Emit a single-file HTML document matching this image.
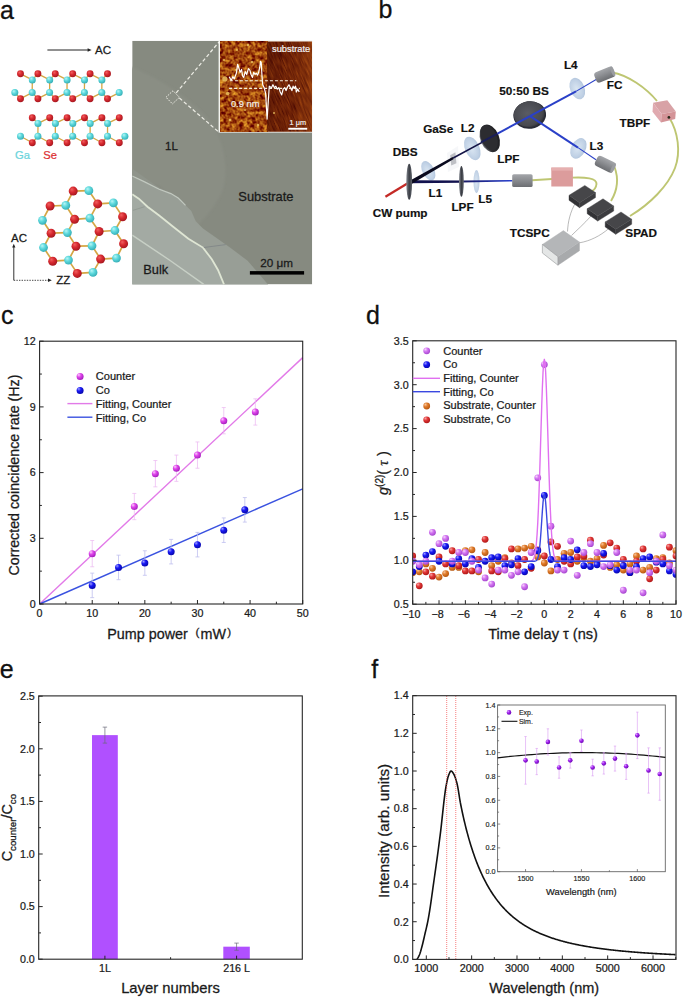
<!DOCTYPE html><html><head><meta charset="utf-8"><title>Figure</title><style>html,body{margin:0;padding:0;background:#fff;overflow:hidden;width:685px;height:998px;}svg{display:block;}text{font-family:"Liberation Sans",sans-serif;}</style></head><body>
<svg width="685" height="998" viewBox="0 0 685 998">
<defs><radialGradient id="gMag" cx="0.38" cy="0.35" r="0.65" fx="0.3" fy="0.28"><stop offset="0" stop-color="#fcd0fc"/><stop offset="0.45" stop-color="#e046ec"/><stop offset="1" stop-color="#a820c0"/></radialGradient><radialGradient id="gBlue" cx="0.38" cy="0.35" r="0.65" fx="0.3" fy="0.28"><stop offset="0" stop-color="#a0a0ff"/><stop offset="0.45" stop-color="#1818f4"/><stop offset="1" stop-color="#0808b0"/></radialGradient><radialGradient id="gVio" cx="0.38" cy="0.35" r="0.65" fx="0.3" fy="0.28"><stop offset="0" stop-color="#f8d8fc"/><stop offset="0.45" stop-color="#d477f2"/><stop offset="1" stop-color="#a848d0"/></radialGradient><radialGradient id="gOr" cx="0.38" cy="0.35" r="0.65" fx="0.3" fy="0.28"><stop offset="0" stop-color="#f8c8a0"/><stop offset="0.45" stop-color="#e07c2c"/><stop offset="1" stop-color="#b85810"/></radialGradient><radialGradient id="gRed" cx="0.38" cy="0.35" r="0.65" fx="0.3" fy="0.28"><stop offset="0" stop-color="#f8a8a8"/><stop offset="0.45" stop-color="#e23838"/><stop offset="1" stop-color="#b01818"/></radialGradient><radialGradient id="gPur" cx="0.38" cy="0.35" r="0.65" fx="0.3" fy="0.28"><stop offset="0" stop-color="#dca8ff"/><stop offset="0.45" stop-color="#a424f0"/><stop offset="1" stop-color="#6c08b4"/></radialGradient><radialGradient id="gAtR" cx="0.4" cy="0.38" r="0.62" fx="0.35" fy="0.3"><stop offset="0" stop-color="#f06060"/><stop offset="0.5" stop-color="#d82a30"/><stop offset="1" stop-color="#a81820"/></radialGradient><radialGradient id="gAtC" cx="0.4" cy="0.38" r="0.62" fx="0.35" fy="0.3"><stop offset="0" stop-color="#b8f6f6"/><stop offset="0.5" stop-color="#5cd8dc"/><stop offset="1" stop-color="#38b0b8"/></radialGradient><filter id="blur05" x="-0.2" y="-0.2" width="1.4" height="1.4"><feGaussianBlur stdDeviation="0.5"/></filter><filter id="blur1" x="-0.2" y="-0.2" width="1.4" height="1.4"><feGaussianBlur stdDeviation="1"/></filter><linearGradient id="gAfmR" x1="0" y1="0" x2="1" y2="0"><stop offset="0" stop-color="#300000" stop-opacity="0.3"/><stop offset="0.5" stop-color="#400800" stop-opacity="0.1"/><stop offset="1" stop-color="#d07020" stop-opacity="0.25"/></linearGradient><filter id="afmL" x="0" y="0" width="1" height="1" color-interpolation-filters="sRGB"><feTurbulence type="fractalNoise" baseFrequency="0.25" numOctaves="3" seed="7" result="n"/><feColorMatrix in="n" type="matrix" values="0.95 0 0 0 0.15  1.15 0 0 0 -0.3  0.35 0 0 0 -0.12  0 0 0 0 1"/></filter><filter id="afmR" x="0" y="0" width="1" height="1" color-interpolation-filters="sRGB"><feTurbulence type="fractalNoise" baseFrequency="0.9 0.08" numOctaves="2" seed="3" result="n"/><feColorMatrix in="n" type="matrix" values="0.5 0 0 0 0.21  0.36 0 0 0 -0.03  0.08 0 0 0 -0.01  0 0 0 0 1"/></filter><linearGradient id="gLens" x1="0" y1="0" x2="1" y2="1"><stop offset="0" stop-color="#e8f0f8"/><stop offset="0.5" stop-color="#b8cce4"/><stop offset="1" stop-color="#d8e4f0"/></linearGradient><radialGradient id="gLens2" cx="0.45" cy="0.5" r="0.6"><stop offset="0" stop-color="#d4e2f0"/><stop offset="0.7" stop-color="#b4c8e0"/><stop offset="1" stop-color="#9fb6d2"/></radialGradient><linearGradient id="gDisk" x1="0" y1="0" x2="1" y2="0"><stop offset="0" stop-color="#6a6c72"/><stop offset="0.4" stop-color="#2c2d31"/><stop offset="1" stop-color="#1e1e22"/></linearGradient><linearGradient id="gDBS" x1="0" y1="0" x2="1" y2="0"><stop offset="0" stop-color="#888c94"/><stop offset="0.5" stop-color="#3a3d44"/><stop offset="1" stop-color="#62666e"/></linearGradient><radialGradient id="gBS" cx="0.45" cy="0.45" r="0.6"><stop offset="0" stop-color="#5a5c64"/><stop offset="0.8" stop-color="#48494f"/><stop offset="1" stop-color="#2e2f35"/></radialGradient><linearGradient id="gCyl" x1="0" y1="0" x2="0" y2="1"><stop offset="0" stop-color="#a4a6aa"/><stop offset="0.45" stop-color="#8c8e92"/><stop offset="1" stop-color="#6c6e72"/></linearGradient><linearGradient id="gBeamU" x1="0" y1="0" x2="1" y2="0"><stop offset="0" stop-color="#0a0a1a"/><stop offset="0.6" stop-color="#16164a"/><stop offset="1" stop-color="#2233a0"/></linearGradient><linearGradient id="gBeamL" gradientUnits="userSpaceOnUse" x1="411" y1="0" x2="512" y2="0"><stop offset="0" stop-color="#0c0c2a"/><stop offset="0.5" stop-color="#1a1a60"/><stop offset="1" stop-color="#2840d0"/></linearGradient><linearGradient id="gBeamU2" gradientUnits="userSpaceOnUse" x1="411" y1="182" x2="489" y2="138"><stop offset="0" stop-color="#08081a"/><stop offset="0.55" stop-color="#141440"/><stop offset="1" stop-color="#1c2a80"/></linearGradient></defs>
<rect width="685" height="998" fill="#fff"/>
<text x="0" y="18.5" font-size="25" text-anchor="start" fill="#111" stroke="#111" stroke-width="0.28" >a</text>
<line x1="47.4" y1="50" x2="88.5" y2="50" stroke="#222" stroke-width="1" />
<polygon points="91.6,50 87.6,48.2 87.6,51.8" fill="#222"/>
<text x="95" y="54.1" font-size="11.6" text-anchor="start" fill="#1a1a1a" stroke="#1a1a1a" stroke-width="0.255" >AC</text>
<line x1="20.5" y1="73.8" x2="32.3" y2="79.9" stroke="#d4a644" stroke-width="1.3" />
<line x1="37.9" y1="73.8" x2="32.3" y2="79.9" stroke="#d4a644" stroke-width="1.3" />
<line x1="37.9" y1="73.8" x2="49.7" y2="79.9" stroke="#d4a644" stroke-width="1.3" />
<line x1="55.3" y1="73.8" x2="49.7" y2="79.9" stroke="#d4a644" stroke-width="1.3" />
<line x1="55.3" y1="73.8" x2="67.1" y2="79.9" stroke="#d4a644" stroke-width="1.3" />
<line x1="72.7" y1="73.8" x2="67.1" y2="79.9" stroke="#d4a644" stroke-width="1.3" />
<line x1="72.7" y1="73.8" x2="84.5" y2="79.9" stroke="#d4a644" stroke-width="1.3" />
<line x1="90.1" y1="73.8" x2="84.5" y2="79.9" stroke="#d4a644" stroke-width="1.3" />
<line x1="90.1" y1="73.8" x2="101.9" y2="79.9" stroke="#d4a644" stroke-width="1.3" />
<line x1="107.5" y1="73.8" x2="101.9" y2="79.9" stroke="#d4a644" stroke-width="1.3" />
<line x1="20.5" y1="98.7" x2="14.8" y2="92.6" stroke="#d4a644" stroke-width="1.3" />
<line x1="20.5" y1="98.7" x2="32.2" y2="92.6" stroke="#d4a644" stroke-width="1.3" />
<line x1="37.9" y1="98.7" x2="32.2" y2="92.6" stroke="#d4a644" stroke-width="1.3" />
<line x1="37.9" y1="98.7" x2="49.6" y2="92.6" stroke="#d4a644" stroke-width="1.3" />
<line x1="55.3" y1="98.7" x2="49.6" y2="92.6" stroke="#d4a644" stroke-width="1.3" />
<line x1="55.3" y1="98.7" x2="67" y2="92.6" stroke="#d4a644" stroke-width="1.3" />
<line x1="72.7" y1="98.7" x2="67" y2="92.6" stroke="#d4a644" stroke-width="1.3" />
<line x1="72.7" y1="98.7" x2="84.4" y2="92.6" stroke="#d4a644" stroke-width="1.3" />
<line x1="90.1" y1="98.7" x2="84.4" y2="92.6" stroke="#d4a644" stroke-width="1.3" />
<line x1="90.1" y1="98.7" x2="101.8" y2="92.6" stroke="#d4a644" stroke-width="1.3" />
<line x1="107.5" y1="98.7" x2="101.8" y2="92.6" stroke="#d4a644" stroke-width="1.3" />
<line x1="107.5" y1="98.7" x2="119.2" y2="92.6" stroke="#d4a644" stroke-width="1.3" />
<line x1="32.3" y1="79.9" x2="32.2" y2="92.6" stroke="#d4a644" stroke-width="1.3" />
<line x1="49.7" y1="79.9" x2="49.6" y2="92.6" stroke="#d4a644" stroke-width="1.3" />
<line x1="67.1" y1="79.9" x2="67" y2="92.6" stroke="#d4a644" stroke-width="1.3" />
<line x1="84.5" y1="79.9" x2="84.4" y2="92.6" stroke="#d4a644" stroke-width="1.3" />
<line x1="101.9" y1="79.9" x2="101.8" y2="92.6" stroke="#d4a644" stroke-width="1.3" />
<circle cx="20.5" cy="73.8" r="3.45" fill="url(#gAtR)"/>
<circle cx="37.9" cy="73.8" r="3.45" fill="url(#gAtR)"/>
<circle cx="55.3" cy="73.8" r="3.45" fill="url(#gAtR)"/>
<circle cx="72.7" cy="73.8" r="3.45" fill="url(#gAtR)"/>
<circle cx="90.1" cy="73.8" r="3.45" fill="url(#gAtR)"/>
<circle cx="107.5" cy="73.8" r="3.45" fill="url(#gAtR)"/>
<circle cx="20.5" cy="98.7" r="3.45" fill="url(#gAtR)"/>
<circle cx="37.9" cy="98.7" r="3.45" fill="url(#gAtR)"/>
<circle cx="55.3" cy="98.7" r="3.45" fill="url(#gAtR)"/>
<circle cx="72.7" cy="98.7" r="3.45" fill="url(#gAtR)"/>
<circle cx="90.1" cy="98.7" r="3.45" fill="url(#gAtR)"/>
<circle cx="107.5" cy="98.7" r="3.45" fill="url(#gAtR)"/>
<circle cx="32.3" cy="79.9" r="3.5" fill="url(#gAtC)"/>
<circle cx="49.7" cy="79.9" r="3.5" fill="url(#gAtC)"/>
<circle cx="67.1" cy="79.9" r="3.5" fill="url(#gAtC)"/>
<circle cx="84.5" cy="79.9" r="3.5" fill="url(#gAtC)"/>
<circle cx="101.9" cy="79.9" r="3.5" fill="url(#gAtC)"/>
<circle cx="14.8" cy="92.6" r="3.5" fill="url(#gAtC)"/>
<circle cx="32.2" cy="92.6" r="3.5" fill="url(#gAtC)"/>
<circle cx="49.6" cy="92.6" r="3.5" fill="url(#gAtC)"/>
<circle cx="67" cy="92.6" r="3.5" fill="url(#gAtC)"/>
<circle cx="84.4" cy="92.6" r="3.5" fill="url(#gAtC)"/>
<circle cx="101.8" cy="92.6" r="3.5" fill="url(#gAtC)"/>
<circle cx="119.2" cy="92.6" r="3.5" fill="url(#gAtC)"/>
<line x1="32.3" y1="117.7" x2="38" y2="123.4" stroke="#d4a644" stroke-width="1.3" />
<line x1="49.7" y1="117.7" x2="38" y2="123.4" stroke="#d4a644" stroke-width="1.3" />
<line x1="49.7" y1="117.7" x2="55.4" y2="123.4" stroke="#d4a644" stroke-width="1.3" />
<line x1="67.1" y1="117.7" x2="55.4" y2="123.4" stroke="#d4a644" stroke-width="1.3" />
<line x1="67.1" y1="117.7" x2="72.8" y2="123.4" stroke="#d4a644" stroke-width="1.3" />
<line x1="84.5" y1="117.7" x2="72.8" y2="123.4" stroke="#d4a644" stroke-width="1.3" />
<line x1="84.5" y1="117.7" x2="90.2" y2="123.4" stroke="#d4a644" stroke-width="1.3" />
<line x1="101.9" y1="117.7" x2="90.2" y2="123.4" stroke="#d4a644" stroke-width="1.3" />
<line x1="101.9" y1="117.7" x2="107.6" y2="123.4" stroke="#d4a644" stroke-width="1.3" />
<line x1="119.3" y1="117.7" x2="107.6" y2="123.4" stroke="#d4a644" stroke-width="1.3" />
<line x1="32.3" y1="142.7" x2="20.5" y2="136.3" stroke="#d4a644" stroke-width="1.3" />
<line x1="32.3" y1="142.7" x2="37.9" y2="136.3" stroke="#d4a644" stroke-width="1.3" />
<line x1="49.7" y1="142.7" x2="37.9" y2="136.3" stroke="#d4a644" stroke-width="1.3" />
<line x1="49.7" y1="142.7" x2="55.3" y2="136.3" stroke="#d4a644" stroke-width="1.3" />
<line x1="67.1" y1="142.7" x2="55.3" y2="136.3" stroke="#d4a644" stroke-width="1.3" />
<line x1="67.1" y1="142.7" x2="72.7" y2="136.3" stroke="#d4a644" stroke-width="1.3" />
<line x1="84.5" y1="142.7" x2="72.7" y2="136.3" stroke="#d4a644" stroke-width="1.3" />
<line x1="84.5" y1="142.7" x2="90.1" y2="136.3" stroke="#d4a644" stroke-width="1.3" />
<line x1="101.9" y1="142.7" x2="90.1" y2="136.3" stroke="#d4a644" stroke-width="1.3" />
<line x1="101.9" y1="142.7" x2="107.5" y2="136.3" stroke="#d4a644" stroke-width="1.3" />
<line x1="119.3" y1="142.7" x2="107.5" y2="136.3" stroke="#d4a644" stroke-width="1.3" />
<line x1="119.3" y1="142.7" x2="124.9" y2="136.3" stroke="#d4a644" stroke-width="1.3" />
<line x1="38" y1="123.4" x2="37.9" y2="136.3" stroke="#d4a644" stroke-width="1.3" />
<line x1="55.4" y1="123.4" x2="55.3" y2="136.3" stroke="#d4a644" stroke-width="1.3" />
<line x1="72.8" y1="123.4" x2="72.7" y2="136.3" stroke="#d4a644" stroke-width="1.3" />
<line x1="90.2" y1="123.4" x2="90.1" y2="136.3" stroke="#d4a644" stroke-width="1.3" />
<line x1="107.6" y1="123.4" x2="107.5" y2="136.3" stroke="#d4a644" stroke-width="1.3" />
<circle cx="32.3" cy="117.7" r="3.45" fill="url(#gAtR)"/>
<circle cx="49.7" cy="117.7" r="3.45" fill="url(#gAtR)"/>
<circle cx="67.1" cy="117.7" r="3.45" fill="url(#gAtR)"/>
<circle cx="84.5" cy="117.7" r="3.45" fill="url(#gAtR)"/>
<circle cx="101.9" cy="117.7" r="3.45" fill="url(#gAtR)"/>
<circle cx="119.3" cy="117.7" r="3.45" fill="url(#gAtR)"/>
<circle cx="32.3" cy="142.7" r="3.45" fill="url(#gAtR)"/>
<circle cx="49.7" cy="142.7" r="3.45" fill="url(#gAtR)"/>
<circle cx="67.1" cy="142.7" r="3.45" fill="url(#gAtR)"/>
<circle cx="84.5" cy="142.7" r="3.45" fill="url(#gAtR)"/>
<circle cx="101.9" cy="142.7" r="3.45" fill="url(#gAtR)"/>
<circle cx="119.3" cy="142.7" r="3.45" fill="url(#gAtR)"/>
<circle cx="38" cy="123.4" r="3.5" fill="url(#gAtC)"/>
<circle cx="55.4" cy="123.4" r="3.5" fill="url(#gAtC)"/>
<circle cx="72.8" cy="123.4" r="3.5" fill="url(#gAtC)"/>
<circle cx="90.2" cy="123.4" r="3.5" fill="url(#gAtC)"/>
<circle cx="107.6" cy="123.4" r="3.5" fill="url(#gAtC)"/>
<circle cx="20.5" cy="136.3" r="3.5" fill="url(#gAtC)"/>
<circle cx="37.9" cy="136.3" r="3.5" fill="url(#gAtC)"/>
<circle cx="55.3" cy="136.3" r="3.5" fill="url(#gAtC)"/>
<circle cx="72.7" cy="136.3" r="3.5" fill="url(#gAtC)"/>
<circle cx="90.1" cy="136.3" r="3.5" fill="url(#gAtC)"/>
<circle cx="107.5" cy="136.3" r="3.5" fill="url(#gAtC)"/>
<circle cx="124.9" cy="136.3" r="3.5" fill="url(#gAtC)"/>
<text x="15" y="158.8" font-size="11.2" text-anchor="start" fill="#6cd4dc" stroke="#6cd4dc" stroke-width="0.246" >Ga</text>
<text x="43.2" y="158.8" font-size="11.2" text-anchor="start" fill="#dc3034" stroke="#dc3034" stroke-width="0.246" >Se</text>
<line x1="73.2" y1="191.1" x2="88.9" y2="190.7" stroke="#d4a644" stroke-width="1.7" />
<line x1="73.2" y1="191.1" x2="65.8" y2="205.4" stroke="#d4a644" stroke-width="1.7" />
<line x1="50.1" y1="206" x2="65.8" y2="205.4" stroke="#d4a644" stroke-width="1.7" />
<line x1="50.1" y1="206" x2="42.5" y2="220.3" stroke="#d4a644" stroke-width="1.7" />
<line x1="97.7" y1="203.9" x2="88.9" y2="190.7" stroke="#d4a644" stroke-width="1.7" />
<line x1="97.7" y1="203.9" x2="113.4" y2="202.9" stroke="#d4a644" stroke-width="1.7" />
<line x1="97.7" y1="203.9" x2="89.9" y2="218.2" stroke="#d4a644" stroke-width="1.7" />
<line x1="74.6" y1="219.3" x2="65.8" y2="205.4" stroke="#d4a644" stroke-width="1.7" />
<line x1="74.6" y1="219.3" x2="89.9" y2="218.2" stroke="#d4a644" stroke-width="1.7" />
<line x1="74.6" y1="219.3" x2="67.4" y2="232.6" stroke="#d4a644" stroke-width="1.7" />
<line x1="122.6" y1="216.8" x2="113.4" y2="202.9" stroke="#d4a644" stroke-width="1.7" />
<line x1="122.6" y1="216.8" x2="114.9" y2="230.5" stroke="#d4a644" stroke-width="1.7" />
<line x1="51.1" y1="233.2" x2="42.5" y2="220.3" stroke="#d4a644" stroke-width="1.7" />
<line x1="51.1" y1="233.2" x2="67.4" y2="232.6" stroke="#d4a644" stroke-width="1.7" />
<line x1="51.1" y1="233.2" x2="43.5" y2="247.5" stroke="#d4a644" stroke-width="1.7" />
<line x1="99.1" y1="231.5" x2="89.9" y2="218.2" stroke="#d4a644" stroke-width="1.7" />
<line x1="99.1" y1="231.5" x2="114.9" y2="230.5" stroke="#d4a644" stroke-width="1.7" />
<line x1="99.1" y1="231.5" x2="92" y2="245.8" stroke="#d4a644" stroke-width="1.7" />
<line x1="76" y1="246.2" x2="67.4" y2="232.6" stroke="#d4a644" stroke-width="1.7" />
<line x1="76" y1="246.2" x2="92" y2="245.8" stroke="#d4a644" stroke-width="1.7" />
<line x1="76" y1="246.2" x2="68.5" y2="260.1" stroke="#d4a644" stroke-width="1.7" />
<line x1="123.6" y1="243.8" x2="114.9" y2="230.5" stroke="#d4a644" stroke-width="1.7" />
<line x1="123.6" y1="243.8" x2="116.5" y2="258.1" stroke="#d4a644" stroke-width="1.7" />
<line x1="52.7" y1="261.2" x2="43.5" y2="247.5" stroke="#d4a644" stroke-width="1.7" />
<line x1="52.7" y1="261.2" x2="68.5" y2="260.1" stroke="#d4a644" stroke-width="1.7" />
<line x1="100.6" y1="259.1" x2="92" y2="245.8" stroke="#d4a644" stroke-width="1.7" />
<line x1="100.6" y1="259.1" x2="116.5" y2="258.1" stroke="#d4a644" stroke-width="1.7" />
<line x1="100.6" y1="259.1" x2="93" y2="272.4" stroke="#d4a644" stroke-width="1.7" />
<line x1="77.3" y1="273.4" x2="68.5" y2="260.1" stroke="#d4a644" stroke-width="1.7" />
<line x1="77.3" y1="273.4" x2="93" y2="272.4" stroke="#d4a644" stroke-width="1.7" />
<circle cx="73.2" cy="191.1" r="4.5" fill="url(#gAtR)"/>
<circle cx="50.1" cy="206" r="4.5" fill="url(#gAtR)"/>
<circle cx="97.7" cy="203.9" r="4.5" fill="url(#gAtR)"/>
<circle cx="74.6" cy="219.3" r="4.5" fill="url(#gAtR)"/>
<circle cx="122.6" cy="216.8" r="4.5" fill="url(#gAtR)"/>
<circle cx="51.1" cy="233.2" r="4.5" fill="url(#gAtR)"/>
<circle cx="99.1" cy="231.5" r="4.5" fill="url(#gAtR)"/>
<circle cx="76" cy="246.2" r="4.5" fill="url(#gAtR)"/>
<circle cx="123.6" cy="243.8" r="4.5" fill="url(#gAtR)"/>
<circle cx="52.7" cy="261.2" r="4.5" fill="url(#gAtR)"/>
<circle cx="100.6" cy="259.1" r="4.5" fill="url(#gAtR)"/>
<circle cx="77.3" cy="273.4" r="4.5" fill="url(#gAtR)"/>
<circle cx="88.9" cy="190.7" r="4.4" fill="url(#gAtC)"/>
<circle cx="65.8" cy="205.4" r="4.4" fill="url(#gAtC)"/>
<circle cx="113.4" cy="202.9" r="4.4" fill="url(#gAtC)"/>
<circle cx="42.5" cy="220.3" r="4.4" fill="url(#gAtC)"/>
<circle cx="89.9" cy="218.2" r="4.4" fill="url(#gAtC)"/>
<circle cx="67.4" cy="232.6" r="4.4" fill="url(#gAtC)"/>
<circle cx="114.9" cy="230.5" r="4.4" fill="url(#gAtC)"/>
<circle cx="43.5" cy="247.5" r="4.4" fill="url(#gAtC)"/>
<circle cx="92" cy="245.8" r="4.4" fill="url(#gAtC)"/>
<circle cx="68.5" cy="260.1" r="4.4" fill="url(#gAtC)"/>
<circle cx="116.5" cy="258.1" r="4.4" fill="url(#gAtC)"/>
<circle cx="93" cy="272.4" r="4.4" fill="url(#gAtC)"/>
<line x1="13.8" y1="280.3" x2="13.8" y2="247" stroke="#333" stroke-width="1" />
<polygon points="13.8,243.8 12.2,247.6 15.4,247.6" fill="#222"/>
<line x1="13.8" y1="280.3" x2="48.5" y2="280.3" stroke="#333" stroke-width="0.9" stroke-dasharray="1.4,1.2"/>
<polygon points="51.8,280.3 48,278.6 48,282" fill="#222"/>
<text x="11" y="242" font-size="11.5" text-anchor="start" fill="#1a1a1a" stroke="#1a1a1a" stroke-width="0.253" >AC</text>
<text x="56.2" y="283.6" font-size="11.5" text-anchor="start" fill="#1a1a1a" stroke="#1a1a1a" stroke-width="0.253" >ZZ</text>
<clipPath id="clipMic"><rect x="132.2" y="40.8" width="180" height="243.6"/></clipPath>
<g clip-path="url(#clipMic)">
<rect x="132.2" y="40.8" width="180" height="243.6" fill="#868a80"/>
<path d="M120,62 C160,78 195,100 215,128 C226,150 228,175 222,192 C214,208 205,218 197,226 L160,186 L120,175 Z" fill="#8a8e84" filter="url(#blur1)"/>
<polygon points="126,165 132.2,168.8 157,186.3 178.2,198 185.5,205.3 182.6,202.3 170.9,193.6 159.2,189.2 144.6,181.9 132.2,176 126,176" fill="#8f948b" filter="url(#blur05)"/>
<polygon points="126,176 132.2,176 144.6,181.9 159.2,189.2 170.9,193.6 178.2,198 182.6,202.3 185.5,205.3 191.3,211.1 195.7,221.3 203,228.6 217.6,238.8 230,247.6 247.6,260.7 268,284.4 272,300 230,300 224,284.4 218,270 211.8,259.3 203,247.6 188.4,238.8 173.8,227.2 159.2,215.5 147.5,206.7 138.8,198.7 132.2,194.3 126,194" fill="#989e96" filter="url(#blur05)"/>
<polygon points="126,194.3 132.2,194.3 138.8,198.7 147.5,206.7 159.2,215.5 173.8,227.2 188.4,238.8 203,247.6 211.8,259.3 218,270 224,284.4 226,300 126,300" fill="#a3aaa3"/>
<polyline points="132.2,176 144.6,181.9 159.2,189.2 170.9,193.6 178.2,198 182.6,202.3 185.5,205.3" fill="none" stroke="#c2c9c0" stroke-width="1.2" filter="url(#blur05)"/>
<polyline points="132.2,194.3 138.8,198.7 147.5,206.7 159.2,215.5 173.8,227.2 188.4,238.8 203,247.6 211.8,259.3 218,270 224,284.4" fill="none" stroke="#dfe6d4" stroke-width="1.8" filter="url(#blur05)"/>
<path d="M132.2,235.2 L169.4,260 L203.8,284.4" fill="none" stroke="#c8d0c6" stroke-width="1.4" filter="url(#blur05)"/>
<path d="M132.9,210.4 L144.6,206.7" fill="none" stroke="#8a908a" stroke-width="0.6"/>
<path d="M203.8,247.5 L225.7,244.6" fill="none" stroke="#7a8084" stroke-width="0.7"/>
</g>
<text x="165" y="149.9" font-size="11.5" text-anchor="start" fill="#1a1a1a" stroke="#1a1a1a" stroke-width="0.253" >1L</text>
<text x="238.3" y="200.8" font-size="12.9" text-anchor="start" fill="#1a1a1a" stroke="#1a1a1a" stroke-width="0.28" >Substrate</text>
<text x="143.3" y="273.8" font-size="12.8" text-anchor="start" fill="#1a1a1a" stroke="#1a1a1a" stroke-width="0.28" >Bulk</text>
<text x="260.2" y="267.2" font-size="11.7" text-anchor="start" fill="#1a1a1a" stroke="#1a1a1a" stroke-width="0.257" >20 μm</text>
<rect x="249.9" y="271.1" width="54.2" height="3.5" fill="#000"/>
<polygon points="166,97.3 173,90.7 179.4,97.3 172.5,103.9" fill="none" stroke="#e8e8e0" stroke-width="1" stroke-dasharray="1.6,1.1"/>
<line x1="176.2" y1="92.9" x2="219.2" y2="41.8" stroke="#ecece4" stroke-width="1.25" stroke-dasharray="3.6,2.3"/>
<line x1="179.4" y1="98" x2="219.2" y2="132.4" stroke="#ecece4" stroke-width="1.25" stroke-dasharray="3.6,2.3"/>
<rect x="218.6" y="40.6" width="93.8" height="92" fill="#f4f4f0"/>
<rect x="220.2" y="41.7" width="47" height="89.8" fill="#b06010"/>
<rect x="220.2" y="41.7" width="47" height="89.8" filter="url(#afmL)"/>
<rect x="267.1" y="41.7" width="44.9" height="89.8" fill="#8a3a0a"/>
<g clip-path="url(#clipAfmR)"><g transform="rotate(-22 289 86)"><rect x="250" y="20" width="80" height="140" filter="url(#afmR)"/></g></g>
<rect x="267.1" y="41.7" width="44.9" height="89.8" fill="url(#gAfmR)"/>
<clipPath id="clipAfmR"><rect x="267.1" y="41.7" width="44.9" height="89.8"/></clipPath>
<circle cx="224.8" cy="78.9" r="2.6" fill="#e8c060" opacity="0.85"/>
<circle cx="227.7" cy="93.5" r="1.8" fill="#e8c060" opacity="0.85"/>
<circle cx="248" cy="45" r="1.2" fill="#e8c060" opacity="0.85"/>
<circle cx="237" cy="50" r="1" fill="#e8c060" opacity="0.85"/>
<circle cx="224" cy="60" r="1.1" fill="#e8c060" opacity="0.85"/>
<circle cx="252" cy="62" r="1.3" fill="#e8c060" opacity="0.85"/>
<circle cx="230" cy="120" r="1.3" fill="#e8c060" opacity="0.85"/>
<circle cx="245" cy="110" r="1" fill="#e8c060" opacity="0.85"/>
<circle cx="258" cy="125" r="1.2" fill="#e8c060" opacity="0.85"/>
<circle cx="274" cy="113" r="1.0" fill="#e8c060" opacity="0.85"/>
<circle cx="236" cy="70" r="0.9" fill="#e8c060" opacity="0.85"/>
<polyline points="229.14,76.7 231.33,80.35 232.79,76.7 234.25,78.89 236.44,73.05 237.61,64.29 238.63,67.21 240.09,72.32 241.55,69.4 242.57,75.97 243.74,77.43 245.2,71.59 246.66,74.51 248.41,68.67 249.87,70.13 251.04,74.51 252.5,77.43 253.66,72.32 255.12,74.51 256.15,73.05 257.61,75.24 258.63,72.32 259.8,67.21 260.53,61.37 261.26,62.83 261.99,75.97 262.72,84.74 264.18,87.66 265.64,93.5 267.09,119.06 267.82,108.1 269.28,86.2 271.47,87.66 272.93,84.74 274.39,87.66 275.85,86.2 277.31,89.12 278.77,87.66 280.23,92.04 281.69,94.96 283.15,89.12 284.61,87.66 286.07,90.58 287.53,86.93 288.99,84.74 290.45,87.66 291.91,90.58 293.08,86.2 294.1,88.39 295.56,86.2 296.29,92.04 297.75,89.12 299.21,92.04" stroke="#ffffff" stroke-width="1.2" fill="none" stroke-linejoin="round"/>
<line x1="229.9" y1="80.8" x2="296.3" y2="80.8" stroke="#f4f0e0" stroke-width="1.1" stroke-dasharray="3,2"/>
<line x1="229.1" y1="88.4" x2="300" y2="88.4" stroke="#f4f0e0" stroke-width="1.1" stroke-dasharray="3,2"/>
<text x="272" y="52.2" font-size="9.3" text-anchor="start" fill="#f4f4f4" stroke="#f4f4f4" stroke-width="0.205" >substrate</text>
<text x="230.9" y="106.6" font-size="9.4" text-anchor="start" fill="#f4f0e8" stroke="#f4f0e8" stroke-width="0.207" >0.9 nm</text>
<text x="289.6" y="125" font-size="7.3" text-anchor="start" fill="#f4f4f4" stroke="#f4f4f4" stroke-width="0.161" >1 μm</text>
<rect x="288.3" y="127.8" width="18.9" height="1.9" fill="#fff"/>
<text x="378.5" y="18.4" font-size="25" text-anchor="start" fill="#111" stroke="#111" stroke-width="0.28" >b</text>
<path d="M612,72.5 C628,75 646,88 657,101" fill="none" stroke="#bec672" stroke-width="1.9"/>
<path d="M669.5,118 C678,132 681,152 675,168 C668,186 650,204 630,216" fill="none" stroke="#bec672" stroke-width="1.9"/>
<path d="M614.5,167 C619,179 617,191 611,201" fill="none" stroke="#bec672" stroke-width="1.9"/>
<path d="M532,180.3 L552,179" fill="none" stroke="#bec672" stroke-width="1.9"/>
<path d="M572,177.6 C585,177 597,178 596.5,184 C596,188 594,190 592,191" fill="none" stroke="#bec672" stroke-width="1.9"/>
<path d="M576,202 C570,212 568,222 567.5,231.5" fill="none" stroke="#8a8a8a" stroke-width="0.6"/>
<path d="M591,216 C584,224 577,230 571.5,235.5" fill="none" stroke="#8a8a8a" stroke-width="0.6"/>
<path d="M608.6,228.7 C600,236 590,241 579.5,242.8" fill="none" stroke="#8a8a8a" stroke-width="0.6"/>
<ellipse cx="428.3" cy="170.8" rx="5.8" ry="10.5" transform="rotate(-28 428.3 170.8)" fill="url(#gLens2)" opacity="0.85"/>
<ellipse cx="472.3" cy="148.4" rx="7.2" ry="12.4" transform="rotate(-24 472.3 148.4)" fill="url(#gLens2)" opacity="0.85"/>
<ellipse cx="577.3" cy="88.6" rx="7.2" ry="11.2" transform="rotate(-22 577.3 88.6)" fill="url(#gLens2)" opacity="0.85"/>
<ellipse cx="578.4" cy="148.4" rx="7.2" ry="11" transform="rotate(28 578.4 148.4)" fill="url(#gLens2)" opacity="0.85"/>
<ellipse cx="476.5" cy="181.6" rx="3" ry="11.6" transform="rotate(0 476.5 181.6)" fill="url(#gLens2)" opacity="0.8"/>
<polygon points="447,153 458,146 459,167 448,172" fill="#e6e8ee" opacity="0.35"/>
<polygon points="450.2,155.3 455.4,152.2 456.4,163.2 451.2,165.6" fill="#b4b6bc" opacity="0.85"/>
<line x1="385.4" y1="196.7" x2="409" y2="182.4" stroke="#c42a26" stroke-width="2.3" />
<polygon points="410.5,180.2 462,180.4 462,182.7 410.5,183.2" fill="#12124e"/>
<polygon points="462,180.6 512.5,180.0 512.5,181.5 462,182.4" fill="url(#gBeamL)"/>
<polygon points="409.7,180.7 452.65,157.04 453.75,158.96 411.5,183.9" fill="#0a0a1e"/>
<polygon points="452.8,157.3 489.1,137.7 489.9,139.1 453.6,158.7" fill="#141446"/>
<ellipse cx="409.2" cy="181.8" rx="2.9" ry="18" fill="url(#gDBS)"/>
<ellipse cx="489.8" cy="138.4" rx="9.4" ry="14.4" transform="rotate(-22 489.8 138.4)" fill="url(#gDisk)"/>
<ellipse cx="489.0" cy="137.8" rx="7.9" ry="13.2" transform="rotate(-22 489 137.8)" fill="#2c2c30"/>
<ellipse cx="529.7" cy="115" rx="16.4" ry="13.8" transform="rotate(-8 529.7 115)" fill="#2a2c36"/>
<ellipse cx="529.2" cy="114.2" rx="15.4" ry="12.8" transform="rotate(-8 529.2 114.2)" fill="url(#gBS)"/>
<line x1="481" y1="142.4" x2="497.5" y2="133.6" stroke="#1a1e58" stroke-width="2" />
<line x1="497.5" y1="133.6" x2="530" y2="116.2" stroke="#2a40c8" stroke-width="2" />
<line x1="530" y1="116.2" x2="576" y2="91.4" stroke="#2a40c8" stroke-width="2" />
<line x1="576" y1="91.4" x2="597" y2="79" stroke="#2a40c8" stroke-width="1.1" />
<line x1="530" y1="116.2" x2="578" y2="147.6" stroke="#2a40c8" stroke-width="2" />
<line x1="578" y1="147.6" x2="596" y2="159.8" stroke="#2a40c8" stroke-width="1.1" />
<ellipse cx="461.4" cy="181.4" rx="2.4" ry="15.4" fill="url(#gDBS)"/>
<g transform="rotate(-22 604.6 74.6)"><rect x="594.6" y="69" width="20" height="11.2" rx="3.36" fill="url(#gCyl)"/><ellipse cx="613.4" cy="74.6" rx="1.6" ry="5.3" fill="#9a9ca0"/></g>
<g transform="rotate(26 605.2 164.2)"><rect x="595.2" y="158.6" width="20" height="11.2" rx="3.36" fill="url(#gCyl)"/><ellipse cx="614" cy="164.2" rx="1.6" ry="5.3" fill="#9a9ca0"/></g>
<rect x="512.2" y="174.2" width="20.4" height="12.8" rx="1.6" fill="url(#gCyl)"/>
<rect x="551.3" y="167.6" width="21.6" height="18.9" fill="#dc9c9c"/>
<rect x="551.3" y="167.6" width="21.6" height="3" fill="#e6b0b0"/>
<polygon points="653.1,102.8 667.3,100.2 675.8,111.4 661.6,114" fill="#d8a2a6"/>
<polygon points="653.1,102.8 661.6,114 661,122.5 652.5,111.7" fill="#e0aab0"/>
<polygon points="661.6,114 675.8,111.4 675.2,118.9 661,122.5" fill="#d49498"/>
<circle cx="668.9" cy="117.4" r="1.4" fill="#2a2a1a"/>
<polygon points="569,195.3 579.5,202.7 579.5,207.7 569,200.3" fill="#323235" stroke="#323235" stroke-width="0.4"/><polygon points="579.5,202.7 595.5,192.6 595.5,197.6 579.5,207.7" fill="#3c3c3f" stroke="#3c3c3f" stroke-width="0.4"/><polygon points="569,195.3 584.8,185.4 595.5,192.6 579.5,202.7" fill="#464649" stroke="#464649" stroke-width="0.4"/>
<polygon points="587.2,208.7 597.7,216.1 597.7,221.1 587.2,213.7" fill="#323235" stroke="#323235" stroke-width="0.4"/><polygon points="597.7,216.1 613.7,206 613.7,211 597.7,221.1" fill="#3c3c3f" stroke="#3c3c3f" stroke-width="0.4"/><polygon points="587.2,208.7 603,198.8 613.7,206 597.7,216.1" fill="#464649" stroke="#464649" stroke-width="0.4"/>
<polygon points="605.2,221.9 615.7,229.3 615.7,234.3 605.2,226.9" fill="#323235" stroke="#323235" stroke-width="0.4"/><polygon points="615.7,229.3 631.7,219.2 631.7,224.2 615.7,234.3" fill="#3c3c3f" stroke="#3c3c3f" stroke-width="0.4"/><polygon points="605.2,221.9 621,212 631.7,219.2 615.7,229.3" fill="#464649" stroke="#464649" stroke-width="0.4"/>
<polygon points="542.4,244.4 558,256.6 558,265.2 542.4,253" fill="#e4e6e6" stroke="#e4e6e6" stroke-width="0.4"/><polygon points="558,256.6 579.5,242.1 579.5,250.7 558,265.2" fill="#a8aaac" stroke="#a8aaac" stroke-width="0.4"/><polygon points="542.4,244.4 563.4,230.6 579.5,242.1 558,256.6" fill="#b4b6b8" stroke="#b4b6b8" stroke-width="0.4"/>
<polygon points="542.4,244.4 558,256.6 558,265.2 542.4,253" fill="none" stroke="#9a9c9e" stroke-width="0.6"/>
<text x="499.2" y="95.4" font-size="11.75" text-anchor="start" fill="#111" stroke="#111" stroke-width="0.18" font-weight="bold" >50:50 BS</text>
<text x="563.9" y="69.2" font-size="11.75" text-anchor="start" fill="#111" stroke="#111" stroke-width="0.18" font-weight="bold" >L4</text>
<text x="606.8" y="88.8" font-size="11.75" text-anchor="start" fill="#111" stroke="#111" stroke-width="0.18" font-weight="bold" >FC</text>
<text x="619.6" y="127.4" font-size="11.75" text-anchor="start" fill="#111" stroke="#111" stroke-width="0.18" font-weight="bold" >TBPF</text>
<text x="423.2" y="133.4" font-size="11.75" text-anchor="start" fill="#111" stroke="#111" stroke-width="0.18" font-weight="bold" >GaSe</text>
<text x="460.8" y="131.6" font-size="11.75" text-anchor="start" fill="#111" stroke="#111" stroke-width="0.18" font-weight="bold" >L2</text>
<text x="589.5" y="149.9" font-size="11.75" text-anchor="start" fill="#111" stroke="#111" stroke-width="0.18" font-weight="bold" >L3</text>
<text x="392.8" y="155.6" font-size="11.75" text-anchor="start" fill="#111" stroke="#111" stroke-width="0.18" font-weight="bold" >DBS</text>
<text x="497.3" y="163" font-size="11.75" text-anchor="start" fill="#111" stroke="#111" stroke-width="0.18" font-weight="bold" >LPF</text>
<text x="428.6" y="196.6" font-size="11.75" text-anchor="start" fill="#111" stroke="#111" stroke-width="0.18" font-weight="bold" >L1</text>
<text x="451.4" y="210.5" font-size="11.75" text-anchor="start" fill="#111" stroke="#111" stroke-width="0.18" font-weight="bold" >LPF</text>
<text x="478.3" y="203.2" font-size="11.75" text-anchor="start" fill="#111" stroke="#111" stroke-width="0.18" font-weight="bold" >L5</text>
<text x="372.7" y="216.8" font-size="11.75" text-anchor="start" fill="#111" stroke="#111" stroke-width="0.18" font-weight="bold" >CW pump</text>
<text x="509.8" y="236.8" font-size="11.75" text-anchor="start" fill="#111" stroke="#111" stroke-width="0.18" font-weight="bold" >TCSPC</text>
<text x="625.3" y="236.8" font-size="11.75" text-anchor="start" fill="#111" stroke="#111" stroke-width="0.18" font-weight="bold" >SPAD</text>
<line x1="39.6" y1="604" x2="302.7" y2="357.62" stroke="#e27ae8" stroke-width="1.4" />
<line x1="39.6" y1="604" x2="302.7" y2="488.81" stroke="#3a52e0" stroke-width="1.4" />
<line x1="92.22" y1="566.77" x2="92.22" y2="540.49" stroke="#ecbaf2" stroke-width="0.75" />
<line x1="90.22" y1="540.49" x2="94.22" y2="540.49" stroke="#ecbaf2" stroke-width="0.75" />
<line x1="90.22" y1="566.77" x2="94.22" y2="566.77" stroke="#ecbaf2" stroke-width="0.75" />
<line x1="134.32" y1="519.68" x2="134.32" y2="493.41" stroke="#ecbaf2" stroke-width="0.75" />
<line x1="132.32" y1="493.41" x2="136.32" y2="493.41" stroke="#ecbaf2" stroke-width="0.75" />
<line x1="132.32" y1="519.68" x2="136.32" y2="519.68" stroke="#ecbaf2" stroke-width="0.75" />
<line x1="155.36" y1="486.83" x2="155.36" y2="460.56" stroke="#ecbaf2" stroke-width="0.75" />
<line x1="153.36" y1="460.56" x2="157.36" y2="460.56" stroke="#ecbaf2" stroke-width="0.75" />
<line x1="153.36" y1="486.83" x2="157.36" y2="486.83" stroke="#ecbaf2" stroke-width="0.75" />
<line x1="176.41" y1="481.36" x2="176.41" y2="455.08" stroke="#ecbaf2" stroke-width="0.75" />
<line x1="174.41" y1="455.08" x2="178.41" y2="455.08" stroke="#ecbaf2" stroke-width="0.75" />
<line x1="174.41" y1="481.36" x2="178.41" y2="481.36" stroke="#ecbaf2" stroke-width="0.75" />
<line x1="197.46" y1="468.22" x2="197.46" y2="441.94" stroke="#ecbaf2" stroke-width="0.75" />
<line x1="195.46" y1="441.94" x2="199.46" y2="441.94" stroke="#ecbaf2" stroke-width="0.75" />
<line x1="195.46" y1="468.22" x2="199.46" y2="468.22" stroke="#ecbaf2" stroke-width="0.75" />
<line x1="223.77" y1="433.84" x2="223.77" y2="407.56" stroke="#ecbaf2" stroke-width="0.75" />
<line x1="221.77" y1="407.56" x2="225.77" y2="407.56" stroke="#ecbaf2" stroke-width="0.75" />
<line x1="221.77" y1="433.84" x2="225.77" y2="433.84" stroke="#ecbaf2" stroke-width="0.75" />
<line x1="255.34" y1="425.08" x2="255.34" y2="398.8" stroke="#ecbaf2" stroke-width="0.75" />
<line x1="253.34" y1="398.8" x2="257.34" y2="398.8" stroke="#ecbaf2" stroke-width="0.75" />
<line x1="253.34" y1="425.08" x2="257.34" y2="425.08" stroke="#ecbaf2" stroke-width="0.75" />
<line x1="92.22" y1="597.65" x2="92.22" y2="573.12" stroke="#bcbcee" stroke-width="0.75" />
<line x1="90.22" y1="573.12" x2="94.22" y2="573.12" stroke="#bcbcee" stroke-width="0.75" />
<line x1="90.22" y1="597.65" x2="94.22" y2="597.65" stroke="#bcbcee" stroke-width="0.75" />
<line x1="118.53" y1="579.69" x2="118.53" y2="555.16" stroke="#bcbcee" stroke-width="0.75" />
<line x1="116.53" y1="555.16" x2="120.53" y2="555.16" stroke="#bcbcee" stroke-width="0.75" />
<line x1="116.53" y1="579.69" x2="120.53" y2="579.69" stroke="#bcbcee" stroke-width="0.75" />
<line x1="144.84" y1="575.31" x2="144.84" y2="550.78" stroke="#bcbcee" stroke-width="0.75" />
<line x1="142.84" y1="550.78" x2="146.84" y2="550.78" stroke="#bcbcee" stroke-width="0.75" />
<line x1="142.84" y1="575.31" x2="146.84" y2="575.31" stroke="#bcbcee" stroke-width="0.75" />
<line x1="171.15" y1="563.92" x2="171.15" y2="539.39" stroke="#bcbcee" stroke-width="0.75" />
<line x1="169.15" y1="539.39" x2="173.15" y2="539.39" stroke="#bcbcee" stroke-width="0.75" />
<line x1="169.15" y1="563.92" x2="173.15" y2="563.92" stroke="#bcbcee" stroke-width="0.75" />
<line x1="197.46" y1="556.91" x2="197.46" y2="532.39" stroke="#bcbcee" stroke-width="0.75" />
<line x1="195.46" y1="532.39" x2="199.46" y2="532.39" stroke="#bcbcee" stroke-width="0.75" />
<line x1="195.46" y1="556.91" x2="199.46" y2="556.91" stroke="#bcbcee" stroke-width="0.75" />
<line x1="223.77" y1="542.46" x2="223.77" y2="517.93" stroke="#bcbcee" stroke-width="0.75" />
<line x1="221.77" y1="517.93" x2="225.77" y2="517.93" stroke="#bcbcee" stroke-width="0.75" />
<line x1="221.77" y1="542.46" x2="225.77" y2="542.46" stroke="#bcbcee" stroke-width="0.75" />
<line x1="244.82" y1="522.09" x2="244.82" y2="497.57" stroke="#bcbcee" stroke-width="0.75" />
<line x1="242.82" y1="497.57" x2="246.82" y2="497.57" stroke="#bcbcee" stroke-width="0.75" />
<line x1="242.82" y1="522.09" x2="246.82" y2="522.09" stroke="#bcbcee" stroke-width="0.75" />
<circle cx="92.22" cy="553.63" r="3.5" fill="url(#gMag)"/>
<circle cx="134.32" cy="506.55" r="3.5" fill="url(#gMag)"/>
<circle cx="155.36" cy="473.69" r="3.5" fill="url(#gMag)"/>
<circle cx="176.41" cy="468.22" r="3.5" fill="url(#gMag)"/>
<circle cx="197.46" cy="455.08" r="3.5" fill="url(#gMag)"/>
<circle cx="223.77" cy="420.7" r="3.5" fill="url(#gMag)"/>
<circle cx="255.34" cy="411.94" r="3.5" fill="url(#gMag)"/>
<circle cx="92.22" cy="585.38" r="3.5" fill="url(#gBlue)"/>
<circle cx="118.53" cy="567.43" r="3.5" fill="url(#gBlue)"/>
<circle cx="144.84" cy="563.05" r="3.5" fill="url(#gBlue)"/>
<circle cx="171.15" cy="551.66" r="3.5" fill="url(#gBlue)"/>
<circle cx="197.46" cy="544.65" r="3.5" fill="url(#gBlue)"/>
<circle cx="223.77" cy="530.2" r="3.5" fill="url(#gBlue)"/>
<circle cx="244.82" cy="509.83" r="3.5" fill="url(#gBlue)"/>
<rect x="39.6" y="341.2" width="263.1" height="262.8" fill="none" stroke="#262626" stroke-width="1.1"/>
<line x1="39.6" y1="604" x2="39.6" y2="600" stroke="#262626" stroke-width="1" />
<text x="39.6" y="616.9" font-size="10.7" text-anchor="middle" fill="#1a1a1a" stroke="#1a1a1a" stroke-width="0.235" >0</text>
<line x1="65.91" y1="604" x2="65.91" y2="601.7" stroke="#262626" stroke-width="1" />
<line x1="92.22" y1="604" x2="92.22" y2="600" stroke="#262626" stroke-width="1" />
<text x="92.22" y="616.9" font-size="10.7" text-anchor="middle" fill="#1a1a1a" stroke="#1a1a1a" stroke-width="0.235" >10</text>
<line x1="118.53" y1="604" x2="118.53" y2="601.7" stroke="#262626" stroke-width="1" />
<line x1="144.84" y1="604" x2="144.84" y2="600" stroke="#262626" stroke-width="1" />
<text x="144.84" y="616.9" font-size="10.7" text-anchor="middle" fill="#1a1a1a" stroke="#1a1a1a" stroke-width="0.235" >20</text>
<line x1="171.15" y1="604" x2="171.15" y2="601.7" stroke="#262626" stroke-width="1" />
<line x1="197.46" y1="604" x2="197.46" y2="600" stroke="#262626" stroke-width="1" />
<text x="197.46" y="616.9" font-size="10.7" text-anchor="middle" fill="#1a1a1a" stroke="#1a1a1a" stroke-width="0.235" >30</text>
<line x1="223.77" y1="604" x2="223.77" y2="601.7" stroke="#262626" stroke-width="1" />
<line x1="250.08" y1="604" x2="250.08" y2="600" stroke="#262626" stroke-width="1" />
<text x="250.08" y="616.9" font-size="10.7" text-anchor="middle" fill="#1a1a1a" stroke="#1a1a1a" stroke-width="0.235" >40</text>
<line x1="276.39" y1="604" x2="276.39" y2="601.7" stroke="#262626" stroke-width="1" />
<line x1="302.7" y1="604" x2="302.7" y2="600" stroke="#262626" stroke-width="1" />
<text x="302.7" y="616.9" font-size="10.7" text-anchor="middle" fill="#1a1a1a" stroke="#1a1a1a" stroke-width="0.235" >50</text>
<line x1="39.6" y1="604" x2="43.6" y2="604" stroke="#262626" stroke-width="1" />
<text x="35.6" y="607.8" font-size="10.7" text-anchor="end" fill="#1a1a1a" stroke="#1a1a1a" stroke-width="0.235" >0</text>
<line x1="39.6" y1="571.15" x2="41.9" y2="571.15" stroke="#262626" stroke-width="1" />
<line x1="39.6" y1="538.3" x2="43.6" y2="538.3" stroke="#262626" stroke-width="1" />
<text x="35.6" y="542.1" font-size="10.7" text-anchor="end" fill="#1a1a1a" stroke="#1a1a1a" stroke-width="0.235" >3</text>
<line x1="39.6" y1="505.45" x2="41.9" y2="505.45" stroke="#262626" stroke-width="1" />
<line x1="39.6" y1="472.6" x2="43.6" y2="472.6" stroke="#262626" stroke-width="1" />
<text x="35.6" y="476.4" font-size="10.7" text-anchor="end" fill="#1a1a1a" stroke="#1a1a1a" stroke-width="0.235" >6</text>
<line x1="39.6" y1="439.75" x2="41.9" y2="439.75" stroke="#262626" stroke-width="1" />
<line x1="39.6" y1="406.9" x2="43.6" y2="406.9" stroke="#262626" stroke-width="1" />
<text x="35.6" y="410.7" font-size="10.7" text-anchor="end" fill="#1a1a1a" stroke="#1a1a1a" stroke-width="0.235" >9</text>
<line x1="39.6" y1="374.05" x2="41.9" y2="374.05" stroke="#262626" stroke-width="1" />
<line x1="39.6" y1="341.2" x2="43.6" y2="341.2" stroke="#262626" stroke-width="1" />
<text x="35.6" y="345" font-size="10.7" text-anchor="end" fill="#1a1a1a" stroke="#1a1a1a" stroke-width="0.235" >12</text>
<circle cx="80.1" cy="376.4" r="3.5" fill="url(#gMag)"/>
<circle cx="80.1" cy="390.4" r="3.5" fill="url(#gBlue)"/>
<line x1="67.4" y1="403.6" x2="92.4" y2="403.6" stroke="#e27ae8" stroke-width="1.4" />
<line x1="67.4" y1="417.2" x2="92.4" y2="417.2" stroke="#3a52e0" stroke-width="1.4" />
<text x="95.8" y="380.3" font-size="11.05" text-anchor="start" fill="#1a1a1a" stroke="#1a1a1a" stroke-width="0.243" >Counter</text>
<text x="95.8" y="394.1" font-size="11.05" text-anchor="start" fill="#1a1a1a" stroke="#1a1a1a" stroke-width="0.243" >Co</text>
<text x="95.8" y="407.9" font-size="11.05" text-anchor="start" fill="#1a1a1a" stroke="#1a1a1a" stroke-width="0.243" >Fitting, Counter</text>
<text x="95.8" y="421.7" font-size="11.05" text-anchor="start" fill="#1a1a1a" stroke="#1a1a1a" stroke-width="0.243" >Fitting, Co</text>
<text x="107.3" y="638.6" font-size="14.35" fill="#1a1a1a" stroke="#1a1a1a" stroke-width="0.28">Pump power<tspan x="200.6">mW</tspan></text>
<text x="195.4" y="636.3" font-size="11.6" fill="#1a1a1a" stroke="#1a1a1a" stroke-width="0.28">(</text>
<text x="227.2" y="636.3" font-size="11.6" fill="#1a1a1a" stroke="#1a1a1a" stroke-width="0.28">)</text>
<text transform="translate(18.6,475) rotate(-90)" x="0" y="0" font-size="14.24" text-anchor="middle" fill="#1a1a1a" stroke="#1a1a1a" stroke-width="0.28">Corrected coincidence rate (Hz)</text>
<text x="0.95" y="323.65" font-size="25" text-anchor="start" fill="#111" stroke="#111" stroke-width="0.28" >c</text>
<clipPath id="clipd"><rect x="412.7" y="340.8" width="263.3" height="263.4"/></clipPath>
<g clip-path="url(#clipd)">
<circle cx="412.7" cy="572.68" r="3.4" fill="url(#gOr)"/>
<circle cx="419.28" cy="571.8" r="3.4" fill="url(#gOr)"/>
<circle cx="425.87" cy="563.9" r="3.4" fill="url(#gOr)"/>
<circle cx="432.45" cy="568.29" r="3.4" fill="url(#gOr)"/>
<circle cx="439.03" cy="577.07" r="3.4" fill="url(#gOr)"/>
<circle cx="445.61" cy="573.56" r="3.4" fill="url(#gOr)"/>
<circle cx="452.19" cy="567.41" r="3.4" fill="url(#gOr)"/>
<circle cx="458.78" cy="567.41" r="3.4" fill="url(#gOr)"/>
<circle cx="465.36" cy="550.73" r="3.4" fill="url(#gOr)"/>
<circle cx="471.94" cy="549.85" r="3.4" fill="url(#gOr)"/>
<circle cx="478.52" cy="571.8" r="3.4" fill="url(#gOr)"/>
<circle cx="485.11" cy="552.49" r="3.4" fill="url(#gOr)"/>
<circle cx="491.69" cy="565.66" r="3.4" fill="url(#gOr)"/>
<circle cx="498.27" cy="561.27" r="3.4" fill="url(#gOr)"/>
<circle cx="504.86" cy="557.75" r="3.4" fill="url(#gOr)"/>
<circle cx="511.44" cy="563.02" r="3.4" fill="url(#gOr)"/>
<circle cx="518.02" cy="548.97" r="3.4" fill="url(#gOr)"/>
<circle cx="524.6" cy="548.1" r="3.4" fill="url(#gOr)"/>
<circle cx="531.18" cy="546.34" r="3.4" fill="url(#gOr)"/>
<circle cx="537.77" cy="556.88" r="3.4" fill="url(#gOr)"/>
<circle cx="544.35" cy="563.02" r="3.4" fill="url(#gOr)"/>
<circle cx="550.93" cy="570.92" r="3.4" fill="url(#gOr)"/>
<circle cx="557.51" cy="559.51" r="3.4" fill="url(#gOr)"/>
<circle cx="564.1" cy="553.36" r="3.4" fill="url(#gOr)"/>
<circle cx="570.68" cy="552.49" r="3.4" fill="url(#gOr)"/>
<circle cx="577.26" cy="561.27" r="3.4" fill="url(#gOr)"/>
<circle cx="583.85" cy="557.75" r="3.4" fill="url(#gOr)"/>
<circle cx="590.43" cy="561.27" r="3.4" fill="url(#gOr)"/>
<circle cx="597.01" cy="558.63" r="3.4" fill="url(#gOr)"/>
<circle cx="603.59" cy="545.46" r="3.4" fill="url(#gOr)"/>
<circle cx="610.17" cy="567.41" r="3.4" fill="url(#gOr)"/>
<circle cx="616.76" cy="564.78" r="3.4" fill="url(#gOr)"/>
<circle cx="623.34" cy="570.05" r="3.4" fill="url(#gOr)"/>
<circle cx="629.92" cy="563.9" r="3.4" fill="url(#gOr)"/>
<circle cx="636.5" cy="556" r="3.4" fill="url(#gOr)"/>
<circle cx="643.09" cy="570.05" r="3.4" fill="url(#gOr)"/>
<circle cx="649.67" cy="567.41" r="3.4" fill="url(#gOr)"/>
<circle cx="656.25" cy="558.63" r="3.4" fill="url(#gOr)"/>
<circle cx="662.84" cy="557.75" r="3.4" fill="url(#gOr)"/>
<circle cx="669.42" cy="563.02" r="3.4" fill="url(#gOr)"/>
<circle cx="676" cy="550.73" r="3.4" fill="url(#gOr)"/>
<circle cx="412.7" cy="556" r="3.4" fill="url(#gRed)"/>
<circle cx="419.28" cy="585.85" r="3.4" fill="url(#gRed)"/>
<circle cx="425.87" cy="571.8" r="3.4" fill="url(#gRed)"/>
<circle cx="432.45" cy="576.19" r="3.4" fill="url(#gRed)"/>
<circle cx="439.03" cy="556.88" r="3.4" fill="url(#gRed)"/>
<circle cx="445.61" cy="563.9" r="3.4" fill="url(#gRed)"/>
<circle cx="452.19" cy="550.73" r="3.4" fill="url(#gRed)"/>
<circle cx="458.78" cy="565.66" r="3.4" fill="url(#gRed)"/>
<circle cx="465.36" cy="570.92" r="3.4" fill="url(#gRed)"/>
<circle cx="471.94" cy="570.92" r="3.4" fill="url(#gRed)"/>
<circle cx="478.52" cy="559.51" r="3.4" fill="url(#gRed)"/>
<circle cx="485.11" cy="539.32" r="3.4" fill="url(#gRed)"/>
<circle cx="491.69" cy="570.92" r="3.4" fill="url(#gRed)"/>
<circle cx="498.27" cy="571.8" r="3.4" fill="url(#gRed)"/>
<circle cx="504.86" cy="558.63" r="3.4" fill="url(#gRed)"/>
<circle cx="511.44" cy="548.97" r="3.4" fill="url(#gRed)"/>
<circle cx="518.02" cy="565.66" r="3.4" fill="url(#gRed)"/>
<circle cx="524.6" cy="559.51" r="3.4" fill="url(#gRed)"/>
<circle cx="531.18" cy="568.29" r="3.4" fill="url(#gRed)"/>
<circle cx="537.77" cy="549.85" r="3.4" fill="url(#gRed)"/>
<circle cx="544.35" cy="556" r="3.4" fill="url(#gRed)"/>
<circle cx="550.93" cy="541.95" r="3.4" fill="url(#gRed)"/>
<circle cx="557.51" cy="546.34" r="3.4" fill="url(#gRed)"/>
<circle cx="564.1" cy="561.27" r="3.4" fill="url(#gRed)"/>
<circle cx="570.68" cy="563.9" r="3.4" fill="url(#gRed)"/>
<circle cx="577.26" cy="556.88" r="3.4" fill="url(#gRed)"/>
<circle cx="583.85" cy="556" r="3.4" fill="url(#gRed)"/>
<circle cx="590.43" cy="540.19" r="3.4" fill="url(#gRed)"/>
<circle cx="597.01" cy="563.02" r="3.4" fill="url(#gRed)"/>
<circle cx="603.59" cy="555.12" r="3.4" fill="url(#gRed)"/>
<circle cx="610.17" cy="542.83" r="3.4" fill="url(#gRed)"/>
<circle cx="616.76" cy="548.1" r="3.4" fill="url(#gRed)"/>
<circle cx="623.34" cy="559.51" r="3.4" fill="url(#gRed)"/>
<circle cx="629.92" cy="572.68" r="3.4" fill="url(#gRed)"/>
<circle cx="636.5" cy="561.27" r="3.4" fill="url(#gRed)"/>
<circle cx="643.09" cy="548.97" r="3.4" fill="url(#gRed)"/>
<circle cx="649.67" cy="578.83" r="3.4" fill="url(#gRed)"/>
<circle cx="656.25" cy="570.05" r="3.4" fill="url(#gRed)"/>
<circle cx="662.84" cy="559.51" r="3.4" fill="url(#gRed)"/>
<circle cx="669.42" cy="547.22" r="3.4" fill="url(#gRed)"/>
<circle cx="676" cy="556" r="3.4" fill="url(#gRed)"/>
<circle cx="412.7" cy="571.8" r="3.4" fill="url(#gBlue)"/>
<circle cx="419.28" cy="566.53" r="3.4" fill="url(#gBlue)"/>
<circle cx="425.87" cy="555.12" r="3.4" fill="url(#gBlue)"/>
<circle cx="432.45" cy="551.61" r="3.4" fill="url(#gBlue)"/>
<circle cx="439.03" cy="561.27" r="3.4" fill="url(#gBlue)"/>
<circle cx="445.61" cy="546.34" r="3.4" fill="url(#gBlue)"/>
<circle cx="452.19" cy="563.9" r="3.4" fill="url(#gBlue)"/>
<circle cx="458.78" cy="558.63" r="3.4" fill="url(#gBlue)"/>
<circle cx="465.36" cy="563.9" r="3.4" fill="url(#gBlue)"/>
<circle cx="471.94" cy="558.63" r="3.4" fill="url(#gBlue)"/>
<circle cx="478.52" cy="567.41" r="3.4" fill="url(#gBlue)"/>
<circle cx="485.11" cy="561.27" r="3.4" fill="url(#gBlue)"/>
<circle cx="491.69" cy="557.75" r="3.4" fill="url(#gBlue)"/>
<circle cx="498.27" cy="556.88" r="3.4" fill="url(#gBlue)"/>
<circle cx="504.86" cy="565.66" r="3.4" fill="url(#gBlue)"/>
<circle cx="511.44" cy="564.78" r="3.4" fill="url(#gBlue)"/>
<circle cx="518.02" cy="558.63" r="3.4" fill="url(#gBlue)"/>
<circle cx="524.6" cy="571.8" r="3.4" fill="url(#gBlue)"/>
<circle cx="531.18" cy="566.53" r="3.4" fill="url(#gBlue)"/>
<circle cx="537.77" cy="550.73" r="3.4" fill="url(#gBlue)"/>
<circle cx="544.35" cy="495.42" r="3.4" fill="url(#gBlue)"/>
<circle cx="550.93" cy="559.51" r="3.4" fill="url(#gBlue)"/>
<circle cx="557.51" cy="566.53" r="3.4" fill="url(#gBlue)"/>
<circle cx="564.1" cy="557.75" r="3.4" fill="url(#gBlue)"/>
<circle cx="570.68" cy="559.51" r="3.4" fill="url(#gBlue)"/>
<circle cx="577.26" cy="549.85" r="3.4" fill="url(#gBlue)"/>
<circle cx="583.85" cy="565.66" r="3.4" fill="url(#gBlue)"/>
<circle cx="590.43" cy="566.53" r="3.4" fill="url(#gBlue)"/>
<circle cx="597.01" cy="564.78" r="3.4" fill="url(#gBlue)"/>
<circle cx="603.59" cy="553.36" r="3.4" fill="url(#gBlue)"/>
<circle cx="610.17" cy="565.66" r="3.4" fill="url(#gBlue)"/>
<circle cx="616.76" cy="570.05" r="3.4" fill="url(#gBlue)"/>
<circle cx="623.34" cy="565.66" r="3.4" fill="url(#gBlue)"/>
<circle cx="629.92" cy="572.68" r="3.4" fill="url(#gBlue)"/>
<circle cx="636.5" cy="566.53" r="3.4" fill="url(#gBlue)"/>
<circle cx="643.09" cy="558.63" r="3.4" fill="url(#gBlue)"/>
<circle cx="649.67" cy="556.88" r="3.4" fill="url(#gBlue)"/>
<circle cx="656.25" cy="562.14" r="3.4" fill="url(#gBlue)"/>
<circle cx="662.84" cy="563.9" r="3.4" fill="url(#gBlue)"/>
<circle cx="669.42" cy="570.92" r="3.4" fill="url(#gBlue)"/>
<circle cx="676" cy="574.44" r="3.4" fill="url(#gBlue)"/>
<circle cx="412.7" cy="561.27" r="3.4" fill="url(#gVio)"/>
<circle cx="419.28" cy="564.78" r="3.4" fill="url(#gVio)"/>
<circle cx="425.87" cy="561.27" r="3.4" fill="url(#gVio)"/>
<circle cx="432.45" cy="532.29" r="3.4" fill="url(#gVio)"/>
<circle cx="439.03" cy="543.71" r="3.4" fill="url(#gVio)"/>
<circle cx="445.61" cy="538.44" r="3.4" fill="url(#gVio)"/>
<circle cx="452.19" cy="561.27" r="3.4" fill="url(#gVio)"/>
<circle cx="458.78" cy="552.49" r="3.4" fill="url(#gVio)"/>
<circle cx="465.36" cy="552.49" r="3.4" fill="url(#gVio)"/>
<circle cx="471.94" cy="561.27" r="3.4" fill="url(#gVio)"/>
<circle cx="478.52" cy="570.05" r="3.4" fill="url(#gVio)"/>
<circle cx="485.11" cy="577.95" r="3.4" fill="url(#gVio)"/>
<circle cx="491.69" cy="584.09" r="3.4" fill="url(#gVio)"/>
<circle cx="498.27" cy="570.05" r="3.4" fill="url(#gVio)"/>
<circle cx="504.86" cy="570.05" r="3.4" fill="url(#gVio)"/>
<circle cx="511.44" cy="575.31" r="3.4" fill="url(#gVio)"/>
<circle cx="518.02" cy="571.8" r="3.4" fill="url(#gVio)"/>
<circle cx="524.6" cy="586.73" r="3.4" fill="url(#gVio)"/>
<circle cx="531.18" cy="552.49" r="3.4" fill="url(#gVio)"/>
<circle cx="537.77" cy="477.86" r="3.4" fill="url(#gVio)"/>
<circle cx="544.35" cy="364.59" r="3.4" fill="url(#gVio)"/>
<circle cx="550.93" cy="526.15" r="3.4" fill="url(#gVio)"/>
<circle cx="557.51" cy="570.05" r="3.4" fill="url(#gVio)"/>
<circle cx="564.1" cy="570.05" r="3.4" fill="url(#gVio)"/>
<circle cx="570.68" cy="541.07" r="3.4" fill="url(#gVio)"/>
<circle cx="577.26" cy="575.31" r="3.4" fill="url(#gVio)"/>
<circle cx="583.85" cy="552.49" r="3.4" fill="url(#gVio)"/>
<circle cx="590.43" cy="543.71" r="3.4" fill="url(#gVio)"/>
<circle cx="597.01" cy="552.49" r="3.4" fill="url(#gVio)"/>
<circle cx="603.59" cy="566.53" r="3.4" fill="url(#gVio)"/>
<circle cx="610.17" cy="564.78" r="3.4" fill="url(#gVio)"/>
<circle cx="616.76" cy="552.49" r="3.4" fill="url(#gVio)"/>
<circle cx="623.34" cy="590.24" r="3.4" fill="url(#gVio)"/>
<circle cx="629.92" cy="570.05" r="3.4" fill="url(#gVio)"/>
<circle cx="636.5" cy="570.05" r="3.4" fill="url(#gVio)"/>
<circle cx="643.09" cy="592.87" r="3.4" fill="url(#gVio)"/>
<circle cx="649.67" cy="572.68" r="3.4" fill="url(#gVio)"/>
<circle cx="656.25" cy="561.27" r="3.4" fill="url(#gVio)"/>
<circle cx="662.84" cy="534.93" r="3.4" fill="url(#gVio)"/>
<circle cx="669.42" cy="565.66" r="3.4" fill="url(#gVio)"/>
<circle cx="676" cy="570.05" r="3.4" fill="url(#gVio)"/>
<polyline points="412.7,561.27 524.6,561.27 524.6,561.27 525.26,561.27 525.92,561.27 526.58,561.26 527.24,561.26 527.89,561.26 528.55,561.25 529.21,561.23 529.87,561.2 530.53,561.13 531.18,560.99 531.84,560.75 532.5,560.31 533.16,559.56 533.82,558.33 534.48,556.37 535.13,553.35 535.79,548.9 536.45,542.58 537.11,533.94 537.77,522.6 538.43,508.33 539.08,491.15 539.74,471.42 540.4,449.89 541.06,427.68 541.72,406.25 542.38,387.24 543.03,372.25 543.69,362.64 544.35,359.33 545.01,362.64 545.67,372.25 546.32,387.24 546.98,406.25 547.64,427.68 548.3,449.89 548.96,471.42 549.62,491.15 550.27,508.33 550.93,522.6 551.59,533.94 552.25,542.58 552.91,548.9 553.57,553.35 554.22,556.37 554.88,558.33 555.54,559.56 556.2,560.31 556.86,560.75 557.51,560.99 558.17,561.13 558.83,561.2 559.49,561.23 560.15,561.25 560.81,561.26 561.46,561.26 562.12,561.26 562.78,561.27 563.44,561.27 564.1,561.27 676,561.27" stroke="#e070f0" stroke-width="1.4" fill="none" stroke-linejoin="round"/>
<polyline points="412.7,561.27 524.6,561.27 524.6,561.27 525.26,561.27 525.92,561.27 526.58,561.27 527.24,561.27 527.89,561.27 528.55,561.27 529.21,561.27 529.87,561.27 530.53,561.27 531.18,561.27 531.84,561.26 532.5,561.26 533.16,561.26 533.82,561.24 534.48,561.21 535.13,561.12 535.79,560.93 536.45,560.52 537.11,559.74 537.77,558.33 538.43,555.96 539.08,552.24 539.74,546.83 540.4,539.6 541.06,530.72 541.72,520.79 542.38,510.9 543.03,502.38 543.69,496.59 544.35,494.54 545.01,496.59 545.67,502.38 546.32,510.9 546.98,520.79 547.64,530.72 548.3,539.6 548.96,546.83 549.62,552.24 550.27,555.96 550.93,558.33 551.59,559.74 552.25,560.52 552.91,560.93 553.57,561.12 554.22,561.21 554.88,561.24 555.54,561.26 556.2,561.26 556.86,561.26 557.51,561.27 558.17,561.27 558.83,561.27 559.49,561.27 560.15,561.27 560.81,561.27 561.46,561.27 562.12,561.27 562.78,561.27 563.44,561.27 564.1,561.27 676,561.27" stroke="#3a48e0" stroke-width="1.4" fill="none" stroke-linejoin="round"/>
</g>
<rect x="412.7" y="340.8" width="263.3" height="263.4" fill="none" stroke="#262626" stroke-width="1.1"/>
<line x1="412.7" y1="604.2" x2="412.7" y2="600.2" stroke="#262626" stroke-width="1" />
<text x="411.3" y="617.5" font-size="10.7" text-anchor="middle" fill="#1a1a1a" stroke="#1a1a1a" stroke-width="0.235" >−10</text>
<line x1="425.87" y1="604.2" x2="425.87" y2="601.9" stroke="#262626" stroke-width="1" />
<line x1="439.03" y1="604.2" x2="439.03" y2="600.2" stroke="#262626" stroke-width="1" />
<text x="437.63" y="617.5" font-size="10.7" text-anchor="middle" fill="#1a1a1a" stroke="#1a1a1a" stroke-width="0.235" >−8</text>
<line x1="452.19" y1="604.2" x2="452.19" y2="601.9" stroke="#262626" stroke-width="1" />
<line x1="465.36" y1="604.2" x2="465.36" y2="600.2" stroke="#262626" stroke-width="1" />
<text x="463.96" y="617.5" font-size="10.7" text-anchor="middle" fill="#1a1a1a" stroke="#1a1a1a" stroke-width="0.235" >−6</text>
<line x1="478.52" y1="604.2" x2="478.52" y2="601.9" stroke="#262626" stroke-width="1" />
<line x1="491.69" y1="604.2" x2="491.69" y2="600.2" stroke="#262626" stroke-width="1" />
<text x="490.29" y="617.5" font-size="10.7" text-anchor="middle" fill="#1a1a1a" stroke="#1a1a1a" stroke-width="0.235" >−4</text>
<line x1="504.86" y1="604.2" x2="504.86" y2="601.9" stroke="#262626" stroke-width="1" />
<line x1="518.02" y1="604.2" x2="518.02" y2="600.2" stroke="#262626" stroke-width="1" />
<text x="516.62" y="617.5" font-size="10.7" text-anchor="middle" fill="#1a1a1a" stroke="#1a1a1a" stroke-width="0.235" >−2</text>
<line x1="531.18" y1="604.2" x2="531.18" y2="601.9" stroke="#262626" stroke-width="1" />
<line x1="544.35" y1="604.2" x2="544.35" y2="600.2" stroke="#262626" stroke-width="1" />
<text x="544.35" y="617.5" font-size="10.7" text-anchor="middle" fill="#1a1a1a" stroke="#1a1a1a" stroke-width="0.235" >0</text>
<line x1="557.51" y1="604.2" x2="557.51" y2="601.9" stroke="#262626" stroke-width="1" />
<line x1="570.68" y1="604.2" x2="570.68" y2="600.2" stroke="#262626" stroke-width="1" />
<text x="570.68" y="617.5" font-size="10.7" text-anchor="middle" fill="#1a1a1a" stroke="#1a1a1a" stroke-width="0.235" >2</text>
<line x1="583.85" y1="604.2" x2="583.85" y2="601.9" stroke="#262626" stroke-width="1" />
<line x1="597.01" y1="604.2" x2="597.01" y2="600.2" stroke="#262626" stroke-width="1" />
<text x="597.01" y="617.5" font-size="10.7" text-anchor="middle" fill="#1a1a1a" stroke="#1a1a1a" stroke-width="0.235" >4</text>
<line x1="610.17" y1="604.2" x2="610.17" y2="601.9" stroke="#262626" stroke-width="1" />
<line x1="623.34" y1="604.2" x2="623.34" y2="600.2" stroke="#262626" stroke-width="1" />
<text x="623.34" y="617.5" font-size="10.7" text-anchor="middle" fill="#1a1a1a" stroke="#1a1a1a" stroke-width="0.235" >6</text>
<line x1="636.5" y1="604.2" x2="636.5" y2="601.9" stroke="#262626" stroke-width="1" />
<line x1="649.67" y1="604.2" x2="649.67" y2="600.2" stroke="#262626" stroke-width="1" />
<text x="649.67" y="617.5" font-size="10.7" text-anchor="middle" fill="#1a1a1a" stroke="#1a1a1a" stroke-width="0.235" >8</text>
<line x1="662.84" y1="604.2" x2="662.84" y2="601.9" stroke="#262626" stroke-width="1" />
<line x1="676" y1="604.2" x2="676" y2="600.2" stroke="#262626" stroke-width="1" />
<text x="676" y="617.5" font-size="10.7" text-anchor="middle" fill="#1a1a1a" stroke="#1a1a1a" stroke-width="0.235" >10</text>
<line x1="412.7" y1="604.2" x2="416.7" y2="604.2" stroke="#262626" stroke-width="1" />
<text x="408.6" y="608" font-size="10.7" text-anchor="end" fill="#1a1a1a" stroke="#1a1a1a" stroke-width="0.235" >0.5</text>
<line x1="412.7" y1="582.25" x2="415" y2="582.25" stroke="#262626" stroke-width="1" />
<line x1="412.7" y1="560.3" x2="416.7" y2="560.3" stroke="#262626" stroke-width="1" />
<text x="408.6" y="564.1" font-size="10.7" text-anchor="end" fill="#1a1a1a" stroke="#1a1a1a" stroke-width="0.235" >1.0</text>
<line x1="412.7" y1="538.35" x2="415" y2="538.35" stroke="#262626" stroke-width="1" />
<line x1="412.7" y1="516.4" x2="416.7" y2="516.4" stroke="#262626" stroke-width="1" />
<text x="408.6" y="520.2" font-size="10.7" text-anchor="end" fill="#1a1a1a" stroke="#1a1a1a" stroke-width="0.235" >1.5</text>
<line x1="412.7" y1="494.45" x2="415" y2="494.45" stroke="#262626" stroke-width="1" />
<line x1="412.7" y1="472.5" x2="416.7" y2="472.5" stroke="#262626" stroke-width="1" />
<text x="408.6" y="476.3" font-size="10.7" text-anchor="end" fill="#1a1a1a" stroke="#1a1a1a" stroke-width="0.235" >2.0</text>
<line x1="412.7" y1="450.55" x2="415" y2="450.55" stroke="#262626" stroke-width="1" />
<line x1="412.7" y1="428.6" x2="416.7" y2="428.6" stroke="#262626" stroke-width="1" />
<text x="408.6" y="432.4" font-size="10.7" text-anchor="end" fill="#1a1a1a" stroke="#1a1a1a" stroke-width="0.235" >2.5</text>
<line x1="412.7" y1="406.65" x2="415" y2="406.65" stroke="#262626" stroke-width="1" />
<line x1="412.7" y1="384.7" x2="416.7" y2="384.7" stroke="#262626" stroke-width="1" />
<text x="408.6" y="388.5" font-size="10.7" text-anchor="end" fill="#1a1a1a" stroke="#1a1a1a" stroke-width="0.235" >3.0</text>
<line x1="412.7" y1="362.75" x2="415" y2="362.75" stroke="#262626" stroke-width="1" />
<line x1="412.7" y1="340.8" x2="416.7" y2="340.8" stroke="#262626" stroke-width="1" />
<text x="408.6" y="344.6" font-size="10.7" text-anchor="end" fill="#1a1a1a" stroke="#1a1a1a" stroke-width="0.235" >3.5</text>
<circle cx="426.7" cy="350.8" r="3.4" fill="url(#gVio)"/>
<circle cx="426.7" cy="364.7" r="3.4" fill="url(#gBlue)"/>
<circle cx="426.7" cy="406.0" r="3.4" fill="url(#gOr)"/>
<circle cx="426.7" cy="419.8" r="3.4" fill="url(#gRed)"/>
<line x1="412.8" y1="378.3" x2="440" y2="378.3" stroke="#e070f0" stroke-width="1.4" />
<line x1="412.8" y1="391.7" x2="440" y2="391.7" stroke="#3a48e0" stroke-width="1.4" />
<text x="443.2" y="354.8" font-size="11.05" text-anchor="start" fill="#1a1a1a" stroke="#1a1a1a" stroke-width="0.243" >Counter</text>
<text x="443.2" y="368.47" font-size="11.05" text-anchor="start" fill="#1a1a1a" stroke="#1a1a1a" stroke-width="0.243" >Co</text>
<text x="443.2" y="382.14" font-size="11.05" text-anchor="start" fill="#1a1a1a" stroke="#1a1a1a" stroke-width="0.243" >Fitting, Counter</text>
<text x="443.2" y="395.81" font-size="11.05" text-anchor="start" fill="#1a1a1a" stroke="#1a1a1a" stroke-width="0.243" >Fitting, Co</text>
<text x="443.2" y="409.48" font-size="11.05" text-anchor="start" fill="#1a1a1a" stroke="#1a1a1a" stroke-width="0.243" >Substrate, Counter</text>
<text x="443.2" y="423.15" font-size="11.05" text-anchor="start" fill="#1a1a1a" stroke="#1a1a1a" stroke-width="0.243" >Substrate, Co</text>
<text x="488.2" y="638.6" font-size="14.59" fill="#1a1a1a" stroke="#1a1a1a" stroke-width="0.28">Time delay τ (ns)</text>
<g transform="translate(388.3,495.0) rotate(-90)"><text x="0" y="0" font-size="14.5" fill="#1a1a1a" stroke="#1a1a1a" stroke-width="0.28"><tspan font-style="italic">g</tspan><tspan dy="-5.5" font-size="10">(2)</tspan><tspan dy="5.5">(</tspan><tspan dx="4.2" font-family="Liberation Serif" font-style="italic">τ</tspan><tspan dx="4.4">)</tspan></text></g>
<text x="366" y="323.65" font-size="25" text-anchor="start" fill="#111" stroke="#111" stroke-width="0.28" >d</text>
<rect x="92" y="735.12" width="25.8" height="224.08" fill="#b050ff"/>
<line x1="104.9" y1="727.13" x2="104.9" y2="743.12" stroke="#6a6a7a" stroke-width="0.7" />
<line x1="102.7" y1="727.13" x2="107.1" y2="727.13" stroke="#6a6a7a" stroke-width="0.7" />
<line x1="102.7" y1="743.12" x2="107.1" y2="743.12" stroke="#6a6a7a" stroke-width="0.7" />
<rect x="223.3" y="946.68" width="26.5" height="12.52" fill="#b050ff"/>
<line x1="236.55" y1="943.1" x2="236.55" y2="950.26" stroke="#6a6a7a" stroke-width="0.7" />
<line x1="234.35" y1="943.1" x2="238.75" y2="943.1" stroke="#6a6a7a" stroke-width="0.7" />
<line x1="234.35" y1="950.26" x2="238.75" y2="950.26" stroke="#6a6a7a" stroke-width="0.7" />
<rect x="38.7" y="695.9" width="263.6" height="263.3" fill="none" stroke="#262626" stroke-width="1.1"/>
<line x1="104.9" y1="959.2" x2="104.9" y2="955.7" stroke="#262626" stroke-width="1" />
<line x1="170.6" y1="959.2" x2="170.6" y2="957.2" stroke="#262626" stroke-width="1" />
<line x1="236.6" y1="959.2" x2="236.6" y2="955.7" stroke="#262626" stroke-width="1" />
<line x1="38.7" y1="959.2" x2="42.7" y2="959.2" stroke="#262626" stroke-width="1" />
<text x="34.8" y="963" font-size="10.7" text-anchor="end" fill="#1a1a1a" stroke="#1a1a1a" stroke-width="0.235" >0.0</text>
<line x1="38.7" y1="932.9" x2="41" y2="932.9" stroke="#262626" stroke-width="1" />
<line x1="38.7" y1="906.6" x2="42.7" y2="906.6" stroke="#262626" stroke-width="1" />
<text x="34.8" y="910.4" font-size="10.7" text-anchor="end" fill="#1a1a1a" stroke="#1a1a1a" stroke-width="0.235" >0.5</text>
<line x1="38.7" y1="880.3" x2="41" y2="880.3" stroke="#262626" stroke-width="1" />
<line x1="38.7" y1="854" x2="42.7" y2="854" stroke="#262626" stroke-width="1" />
<text x="34.8" y="857.8" font-size="10.7" text-anchor="end" fill="#1a1a1a" stroke="#1a1a1a" stroke-width="0.235" >1.0</text>
<line x1="38.7" y1="827.7" x2="41" y2="827.7" stroke="#262626" stroke-width="1" />
<line x1="38.7" y1="801.4" x2="42.7" y2="801.4" stroke="#262626" stroke-width="1" />
<text x="34.8" y="805.2" font-size="10.7" text-anchor="end" fill="#1a1a1a" stroke="#1a1a1a" stroke-width="0.235" >1.5</text>
<line x1="38.7" y1="775.1" x2="41" y2="775.1" stroke="#262626" stroke-width="1" />
<line x1="38.7" y1="748.8" x2="42.7" y2="748.8" stroke="#262626" stroke-width="1" />
<text x="34.8" y="752.6" font-size="10.7" text-anchor="end" fill="#1a1a1a" stroke="#1a1a1a" stroke-width="0.235" >2.0</text>
<line x1="38.7" y1="722.5" x2="41" y2="722.5" stroke="#262626" stroke-width="1" />
<line x1="38.7" y1="696.2" x2="42.7" y2="696.2" stroke="#262626" stroke-width="1" />
<text x="34.8" y="700" font-size="10.7" text-anchor="end" fill="#1a1a1a" stroke="#1a1a1a" stroke-width="0.235" >2.5</text>
<text x="104.9" y="971.6" font-size="10.7" text-anchor="middle" fill="#1a1a1a" stroke="#1a1a1a" stroke-width="0.235" >1L</text>
<text x="236.6" y="971.6" font-size="10.7" text-anchor="middle" fill="#1a1a1a" stroke="#1a1a1a" stroke-width="0.235" >216 L</text>
<text x="170.5" y="993.3" font-size="14.8" text-anchor="middle" fill="#1a1a1a" stroke="#1a1a1a" stroke-width="0.28" >Layer numbers</text>
<g transform="translate(12.2,861.3) rotate(-90)"><text x="0" y="0" font-size="14.4" fill="#1a1a1a" stroke="#1a1a1a" stroke-width="0.28">C<tspan dy="3.4" font-size="9.7">counter</tspan><tspan dy="-3.4">/C</tspan><tspan dy="3.4" font-size="9.7">co</tspan></text></g>
<text x="-0.15" y="677.85" font-size="25" text-anchor="start" fill="#111" stroke="#111" stroke-width="0.28" >e</text>
<clipPath id="clipf"><rect x="412.7" y="695.7" width="263" height="263.7"/></clipPath>
<g clip-path="url(#clipf)">
<polyline points="416.78,959.4 417.43,958.65 418.08,957.63 418.73,956.38 419.38,954.97 420.03,953.32 420.67,951.24 421.32,948.91 421.97,946.49 422.62,943.97 423.27,941.27 423.92,938.45 424.57,935.6 425.22,932.79 425.87,930.08 426.51,927.35 427.16,924.5 427.81,921.4 428.46,917.96 429.11,914.17 429.76,910.11 430.41,905.82 431.06,901.35 431.71,896.76 432.36,892.1 433,887.43 433.65,882.8 434.3,878.25 434.95,873.69 435.6,869.09 436.25,864.45 436.9,859.77 437.55,855.03 438.2,850.24 438.84,845.37 439.49,840.43 440.14,835.41 440.79,830.04 441.44,824.3 442.09,818.34 442.74,812.31 443.39,806.38 444.04,800.68 444.68,795.38 445.33,790.63 445.98,786.58 446.63,783.12 447.28,779.99 447.93,777.35 448.58,775.38 449.23,773.74 449.88,772.29 450.53,771.29 451.17,771.01 451.82,771.36 452.47,772.09 453.12,773.04 453.77,774.06 454.42,775.38 455.07,777.02 455.72,778.95 456.37,781.13 457.01,783.51 457.66,786.4 458.31,790.1 458.96,794.22 459.61,798.36 460.26,802.15 460.91,805.49 461.56,808.67 462.21,811.73 462.85,814.72 463.5,817.63 464.15,820.45 464.8,823.19 465.45,825.85 466.1,828.43 466.75,830.95 467.4,833.4 468.05,835.78 468.69,838.09 469.34,840.35 469.99,842.55 470.64,844.69 471.29,846.77 471.94,848.81 472.59,850.79 473.24,852.72 473.89,854.61 474.54,856.45 475.18,858.24 475.83,859.99 476.48,861.7 477.13,863.37 477.78,865.01 478.43,866.6 479.08,868.15 479.73,869.67 480.38,871.16 481.02,872.61 481.67,874.03 482.32,875.42 482.97,876.78 483.62,878.11 484.27,879.4 484.92,880.67 485.57,881.92 486.22,883.13 486.86,884.32 487.51,885.49 488.16,886.63 488.81,887.75 489.46,888.84 490.11,889.91 490.76,890.96 491.41,891.99 492.06,893 492.7,893.98 493.35,894.95 494,895.9 494.65,896.83 495.3,897.74 495.95,898.63 496.6,899.51 497.25,900.37 497.9,901.21 498.55,902.04 499.19,902.85 499.84,903.64 500.49,904.42 501.14,905.18 501.79,905.94 502.44,906.67 503.09,907.4 503.74,908.11 504.39,908.8 505.03,909.49 505.68,910.16 506.33,910.82 506.98,911.47 507.63,912.1 508.28,912.73 508.93,913.34 509.58,913.95 510.23,914.54 510.87,915.12 511.52,915.69 512.17,916.25 512.82,916.81 513.47,917.35 514.12,917.88 514.77,918.41 515.42,918.93 516.07,919.43 516.72,919.93 517.36,920.42 518.01,920.9 518.66,921.38 519.31,921.84 519.96,922.3 520.61,922.76 521.26,923.2 521.91,923.64 522.56,924.07 523.2,924.49 523.85,924.91 524.5,925.32 525.15,925.72 525.8,926.12 526.45,926.51 527.1,926.89 527.75,927.27 528.4,927.64 529.04,928.01 529.69,928.37 530.34,928.73 530.99,929.08 531.64,929.42 532.29,929.76 532.94,930.09 533.59,930.42 534.24,930.75 534.88,931.07 535.53,931.38 536.18,931.69 536.83,932 537.48,932.3 538.13,932.6 538.78,932.89 539.43,933.18 540.08,933.46 540.73,933.74 541.37,934.02 542.02,934.29 542.67,934.56 543.32,934.82 543.97,935.08 544.62,935.34 545.27,935.59 545.92,935.84 546.57,936.09 547.21,936.33 547.86,936.57 548.51,936.81 549.16,937.04 549.81,937.27 550.46,937.5 551.11,937.72 551.76,937.94 552.41,938.16 553.05,938.37 553.7,938.59 554.35,938.8 555,939 555.65,939.2 556.3,939.41 556.95,939.6 557.6,939.8 558.25,939.99 558.9,940.18 559.54,940.37 560.19,940.56 560.84,940.74 561.49,940.92 562.14,941.1 562.79,941.27 563.44,941.45 564.09,941.62 564.74,941.79 565.38,941.96 566.03,942.12 566.68,942.28 567.33,942.44 567.98,942.6 568.63,942.76 569.28,942.92 569.93,943.07 570.58,943.22 571.22,943.37 571.87,943.52 572.52,943.66 573.17,943.81 573.82,943.95 574.47,944.09 575.12,944.23 575.77,944.37 576.42,944.5 577.06,944.64 577.71,944.77 578.36,944.9 579.01,945.03 579.66,945.16 580.31,945.28 580.96,945.41 581.61,945.53 582.26,945.65 582.91,945.77 583.55,945.89 584.2,946.01 584.85,946.13 585.5,946.24 586.15,946.35 586.8,946.47 587.45,946.58 588.1,946.69 588.75,946.8 589.39,946.9 590.04,947.01 590.69,947.11 591.34,947.22 591.99,947.32 592.64,947.42 593.29,947.52 593.94,947.62 594.59,947.72 595.23,947.82 595.88,947.91 596.53,948.01 597.18,948.1 597.83,948.19 598.48,948.28 599.13,948.38 599.78,948.47 600.43,948.55 601.07,948.64 601.72,948.73 602.37,948.82 603.02,948.9 603.67,948.98 604.32,949.07 604.97,949.15 605.62,949.23 606.27,949.31 606.92,949.39 607.56,949.47 608.21,949.55 608.86,949.63 609.51,949.7 610.16,949.78 610.81,949.85 611.46,949.93 612.11,950 612.76,950.07 613.4,950.15 614.05,950.22 614.7,950.29 615.35,950.36 616,950.43 616.65,950.5 617.3,950.56 617.95,950.63 618.6,950.7 619.24,950.76 619.89,950.83 620.54,950.89 621.19,950.95 621.84,951.02 622.49,951.08 623.14,951.14 623.79,951.2 624.44,951.26 625.09,951.32 625.73,951.38 626.38,951.44 627.03,951.5 627.68,951.56 628.33,951.62 628.98,951.67 629.63,951.73 630.28,951.78 630.93,951.84 631.57,951.89 632.22,951.95 632.87,952 633.52,952.05 634.17,952.11 634.82,952.16 635.47,952.21 636.12,952.26 636.77,952.31 637.41,952.36 638.06,952.41 638.71,952.46 639.36,952.51 640.01,952.56 640.66,952.6 641.31,952.65 641.96,952.7 642.61,952.74 643.25,952.79 643.9,952.84 644.55,952.88 645.2,952.93 645.85,952.97 646.5,953.01 647.15,953.06 647.8,953.1 648.45,953.14 649.1,953.19 649.74,953.23 650.39,953.27 651.04,953.31 651.69,953.35 652.34,953.39 652.99,953.43 653.64,953.47 654.29,953.51 654.94,953.55 655.58,953.59 656.23,953.63 656.88,953.67 657.53,953.7 658.18,953.74 658.83,953.78 659.48,953.82 660.13,953.85 660.78,953.89 661.42,953.92 662.07,953.96 662.72,953.99 663.37,954.03 664.02,954.06 664.67,954.1 665.32,954.13 665.97,954.17 666.62,954.2 667.27,954.23 667.91,954.27 668.56,954.3 669.21,954.33 669.86,954.36 670.51,954.39 671.16,954.43 671.81,954.46 672.46,954.49 673.11,954.52 673.75,954.55 674.4,954.58 675.05,954.61 675.7,954.64" stroke="#111" stroke-width="1.6" fill="none" stroke-linejoin="round"/>
</g>
<line x1="446.71" y1="696" x2="446.71" y2="959" stroke="#f04848" stroke-width="0.7" stroke-dasharray="1,1"/>
<line x1="455.78" y1="696" x2="455.78" y2="959" stroke="#f04848" stroke-width="0.7" stroke-dasharray="1,1"/>
<rect x="412.7" y="695.7" width="263.3" height="263.7" fill="none" stroke="#262626" stroke-width="1.1"/>
<line x1="426.3" y1="959.4" x2="426.3" y2="955.4" stroke="#262626" stroke-width="1" />
<text x="426.3" y="971.6" font-size="10.8" text-anchor="middle" fill="#1a1a1a" stroke="#1a1a1a" stroke-width="0.238" >1000</text>
<line x1="448.98" y1="959.4" x2="448.98" y2="957.1" stroke="#262626" stroke-width="1" />
<line x1="471.65" y1="959.4" x2="471.65" y2="955.4" stroke="#262626" stroke-width="1" />
<text x="471.65" y="971.6" font-size="10.8" text-anchor="middle" fill="#1a1a1a" stroke="#1a1a1a" stroke-width="0.238" >2000</text>
<line x1="494.32" y1="959.4" x2="494.32" y2="957.1" stroke="#262626" stroke-width="1" />
<line x1="516.99" y1="959.4" x2="516.99" y2="955.4" stroke="#262626" stroke-width="1" />
<text x="516.99" y="971.6" font-size="10.8" text-anchor="middle" fill="#1a1a1a" stroke="#1a1a1a" stroke-width="0.238" >3000</text>
<line x1="539.67" y1="959.4" x2="539.67" y2="957.1" stroke="#262626" stroke-width="1" />
<line x1="562.34" y1="959.4" x2="562.34" y2="955.4" stroke="#262626" stroke-width="1" />
<text x="562.34" y="971.6" font-size="10.8" text-anchor="middle" fill="#1a1a1a" stroke="#1a1a1a" stroke-width="0.238" >4000</text>
<line x1="585.01" y1="959.4" x2="585.01" y2="957.1" stroke="#262626" stroke-width="1" />
<line x1="607.68" y1="959.4" x2="607.68" y2="955.4" stroke="#262626" stroke-width="1" />
<text x="607.68" y="971.6" font-size="10.8" text-anchor="middle" fill="#1a1a1a" stroke="#1a1a1a" stroke-width="0.238" >5000</text>
<line x1="630.36" y1="959.4" x2="630.36" y2="957.1" stroke="#262626" stroke-width="1" />
<line x1="653.03" y1="959.4" x2="653.03" y2="955.4" stroke="#262626" stroke-width="1" />
<text x="653.03" y="971.6" font-size="10.8" text-anchor="middle" fill="#1a1a1a" stroke="#1a1a1a" stroke-width="0.238" >6000</text>
<line x1="675.7" y1="959.4" x2="675.7" y2="957.1" stroke="#262626" stroke-width="1" />
<line x1="412.7" y1="959.4" x2="416.7" y2="959.4" stroke="#262626" stroke-width="1" />
<text x="408.6" y="963.2" font-size="10.7" text-anchor="end" fill="#1a1a1a" stroke="#1a1a1a" stroke-width="0.235" >0.0</text>
<line x1="412.7" y1="940.56" x2="415" y2="940.56" stroke="#262626" stroke-width="1" />
<line x1="412.7" y1="921.72" x2="416.7" y2="921.72" stroke="#262626" stroke-width="1" />
<text x="408.6" y="925.52" font-size="10.7" text-anchor="end" fill="#1a1a1a" stroke="#1a1a1a" stroke-width="0.235" >0.2</text>
<line x1="412.7" y1="902.88" x2="415" y2="902.88" stroke="#262626" stroke-width="1" />
<line x1="412.7" y1="884.04" x2="416.7" y2="884.04" stroke="#262626" stroke-width="1" />
<text x="408.6" y="887.84" font-size="10.7" text-anchor="end" fill="#1a1a1a" stroke="#1a1a1a" stroke-width="0.235" >0.4</text>
<line x1="412.7" y1="865.2" x2="415" y2="865.2" stroke="#262626" stroke-width="1" />
<line x1="412.7" y1="846.36" x2="416.7" y2="846.36" stroke="#262626" stroke-width="1" />
<text x="408.6" y="850.16" font-size="10.7" text-anchor="end" fill="#1a1a1a" stroke="#1a1a1a" stroke-width="0.235" >0.6</text>
<line x1="412.7" y1="827.52" x2="415" y2="827.52" stroke="#262626" stroke-width="1" />
<line x1="412.7" y1="808.68" x2="416.7" y2="808.68" stroke="#262626" stroke-width="1" />
<text x="408.6" y="812.48" font-size="10.7" text-anchor="end" fill="#1a1a1a" stroke="#1a1a1a" stroke-width="0.235" >0.8</text>
<line x1="412.7" y1="789.84" x2="415" y2="789.84" stroke="#262626" stroke-width="1" />
<line x1="412.7" y1="771" x2="416.7" y2="771" stroke="#262626" stroke-width="1" />
<text x="408.6" y="774.8" font-size="10.7" text-anchor="end" fill="#1a1a1a" stroke="#1a1a1a" stroke-width="0.235" >1.0</text>
<line x1="412.7" y1="752.16" x2="415" y2="752.16" stroke="#262626" stroke-width="1" />
<line x1="412.7" y1="733.32" x2="416.7" y2="733.32" stroke="#262626" stroke-width="1" />
<text x="408.6" y="737.12" font-size="10.7" text-anchor="end" fill="#1a1a1a" stroke="#1a1a1a" stroke-width="0.235" >1.2</text>
<line x1="412.7" y1="714.48" x2="415" y2="714.48" stroke="#262626" stroke-width="1" />
<line x1="412.7" y1="695.64" x2="416.7" y2="695.64" stroke="#262626" stroke-width="1" />
<text x="408.6" y="699.44" font-size="10.7" text-anchor="end" fill="#1a1a1a" stroke="#1a1a1a" stroke-width="0.235" >1.4</text>
<text x="544.2" y="992.8" font-size="14.5" text-anchor="middle" fill="#1a1a1a" stroke="#1a1a1a" stroke-width="0.28" >Wavelength (nm)</text>
<text transform="translate(389.2,830.9) rotate(-90)" x="0" y="0" font-size="15.28" text-anchor="middle" fill="#1a1a1a" stroke="#1a1a1a" stroke-width="0.28">Intensity (arb. units)</text>
<text x="371.25" y="677.8" font-size="25" text-anchor="start" fill="#111" stroke="#111" stroke-width="0.28" >f</text>
<rect x="497.6" y="705" width="167.7" height="166.7" fill="#fff" stroke="#666" stroke-width="0.9"/>
<polyline points="497.6,757.92 501.9,757.41 506.2,756.92 510.5,756.46 514.8,756.02 519.1,755.61 523.4,755.23 527.7,754.87 532,754.54 536.3,754.23 540.6,753.95 544.9,753.7 549.2,753.48 553.5,753.28 557.8,753.11 562.1,752.96 566.4,752.84 570.7,752.75 575,752.68 579.3,752.64 583.6,752.63 587.9,752.64 592.2,752.68 596.5,752.75 600.8,752.84 605.1,752.96 609.4,753.1 613.7,753.27 618,753.47 622.3,753.69 626.6,753.94 630.9,754.22 635.2,754.52 639.5,754.85 643.8,755.21 648.1,755.59 652.4,756 656.7,756.44 661,756.9 665.3,757.39" stroke="#111" stroke-width="1.2" fill="none" />
<line x1="525.55" y1="736.55" x2="525.55" y2="784.18" stroke="#d898f2" stroke-width="0.6" />
<line x1="524.35" y1="736.55" x2="526.75" y2="736.55" stroke="#d898f2" stroke-width="0.6" />
<line x1="524.35" y1="784.18" x2="526.75" y2="784.18" stroke="#d898f2" stroke-width="0.6" />
<line x1="536.73" y1="748.46" x2="536.73" y2="774.66" stroke="#d898f2" stroke-width="0.6" />
<line x1="535.53" y1="748.46" x2="537.93" y2="748.46" stroke="#d898f2" stroke-width="0.6" />
<line x1="535.53" y1="774.66" x2="537.93" y2="774.66" stroke="#d898f2" stroke-width="0.6" />
<line x1="547.91" y1="728.81" x2="547.91" y2="755.01" stroke="#d898f2" stroke-width="0.6" />
<line x1="546.71" y1="728.81" x2="549.11" y2="728.81" stroke="#d898f2" stroke-width="0.6" />
<line x1="546.71" y1="755.01" x2="549.11" y2="755.01" stroke="#d898f2" stroke-width="0.6" />
<line x1="559.09" y1="756.8" x2="559.09" y2="778.23" stroke="#d898f2" stroke-width="0.6" />
<line x1="557.89" y1="756.8" x2="560.29" y2="756.8" stroke="#d898f2" stroke-width="0.6" />
<line x1="557.89" y1="778.23" x2="560.29" y2="778.23" stroke="#d898f2" stroke-width="0.6" />
<line x1="570.27" y1="752.63" x2="570.27" y2="768.11" stroke="#d898f2" stroke-width="0.6" />
<line x1="569.07" y1="752.63" x2="571.47" y2="752.63" stroke="#d898f2" stroke-width="0.6" />
<line x1="569.07" y1="768.11" x2="571.47" y2="768.11" stroke="#d898f2" stroke-width="0.6" />
<line x1="581.45" y1="730" x2="581.45" y2="751.44" stroke="#d898f2" stroke-width="0.6" />
<line x1="580.25" y1="730" x2="582.65" y2="730" stroke="#d898f2" stroke-width="0.6" />
<line x1="580.25" y1="751.44" x2="582.65" y2="751.44" stroke="#d898f2" stroke-width="0.6" />
<line x1="592.63" y1="759.18" x2="592.63" y2="775.85" stroke="#d898f2" stroke-width="0.6" />
<line x1="591.43" y1="759.18" x2="593.83" y2="759.18" stroke="#d898f2" stroke-width="0.6" />
<line x1="591.43" y1="775.85" x2="593.83" y2="775.85" stroke="#d898f2" stroke-width="0.6" />
<line x1="603.81" y1="752.63" x2="603.81" y2="774.06" stroke="#d898f2" stroke-width="0.6" />
<line x1="602.61" y1="752.63" x2="605.01" y2="752.63" stroke="#d898f2" stroke-width="0.6" />
<line x1="602.61" y1="774.06" x2="605.01" y2="774.06" stroke="#d898f2" stroke-width="0.6" />
<line x1="614.99" y1="746.08" x2="614.99" y2="771.08" stroke="#d898f2" stroke-width="0.6" />
<line x1="613.79" y1="746.08" x2="616.19" y2="746.08" stroke="#d898f2" stroke-width="0.6" />
<line x1="613.79" y1="771.08" x2="616.19" y2="771.08" stroke="#d898f2" stroke-width="0.6" />
<line x1="626.17" y1="753.22" x2="626.17" y2="779.42" stroke="#d898f2" stroke-width="0.6" />
<line x1="624.97" y1="753.22" x2="627.37" y2="753.22" stroke="#d898f2" stroke-width="0.6" />
<line x1="624.97" y1="779.42" x2="627.37" y2="779.42" stroke="#d898f2" stroke-width="0.6" />
<line x1="637.35" y1="712.14" x2="637.35" y2="758.58" stroke="#d898f2" stroke-width="0.6" />
<line x1="636.15" y1="712.14" x2="638.55" y2="712.14" stroke="#d898f2" stroke-width="0.6" />
<line x1="636.15" y1="758.58" x2="638.55" y2="758.58" stroke="#d898f2" stroke-width="0.6" />
<line x1="648.53" y1="747.87" x2="648.53" y2="793.11" stroke="#d898f2" stroke-width="0.6" />
<line x1="647.33" y1="747.87" x2="649.73" y2="747.87" stroke="#d898f2" stroke-width="0.6" />
<line x1="647.33" y1="793.11" x2="649.73" y2="793.11" stroke="#d898f2" stroke-width="0.6" />
<line x1="659.71" y1="747.87" x2="659.71" y2="800.26" stroke="#d898f2" stroke-width="0.6" />
<line x1="658.51" y1="747.87" x2="660.91" y2="747.87" stroke="#d898f2" stroke-width="0.6" />
<line x1="658.51" y1="800.26" x2="660.91" y2="800.26" stroke="#d898f2" stroke-width="0.6" />
<circle cx="525.55" cy="760.37" r="2.3" fill="url(#gPur)"/>
<circle cx="536.73" cy="761.56" r="2.3" fill="url(#gPur)"/>
<circle cx="547.91" cy="741.91" r="2.3" fill="url(#gPur)"/>
<circle cx="559.09" cy="767.51" r="2.3" fill="url(#gPur)"/>
<circle cx="570.27" cy="760.37" r="2.3" fill="url(#gPur)"/>
<circle cx="581.45" cy="740.72" r="2.3" fill="url(#gPur)"/>
<circle cx="592.63" cy="767.51" r="2.3" fill="url(#gPur)"/>
<circle cx="603.81" cy="763.35" r="2.3" fill="url(#gPur)"/>
<circle cx="614.99" cy="758.58" r="2.3" fill="url(#gPur)"/>
<circle cx="626.17" cy="766.32" r="2.3" fill="url(#gPur)"/>
<circle cx="637.35" cy="735.36" r="2.3" fill="url(#gPur)"/>
<circle cx="648.53" cy="770.49" r="2.3" fill="url(#gPur)"/>
<circle cx="659.71" cy="774.06" r="2.3" fill="url(#gPur)"/>
<line x1="525.55" y1="871.7" x2="525.55" y2="869.1" stroke="#555" stroke-width="0.7" />
<text x="525.55" y="880.9" font-size="7.2" text-anchor="middle" fill="#222" stroke="#222" stroke-width="0.158" >1500</text>
<line x1="553.5" y1="871.7" x2="553.5" y2="870.2" stroke="#555" stroke-width="0.7" />
<line x1="581.45" y1="871.7" x2="581.45" y2="869.1" stroke="#555" stroke-width="0.7" />
<text x="581.45" y="880.9" font-size="7.2" text-anchor="middle" fill="#222" stroke="#222" stroke-width="0.158" >1550</text>
<line x1="609.4" y1="871.7" x2="609.4" y2="870.2" stroke="#555" stroke-width="0.7" />
<line x1="637.35" y1="871.7" x2="637.35" y2="869.1" stroke="#555" stroke-width="0.7" />
<text x="637.35" y="880.9" font-size="7.2" text-anchor="middle" fill="#222" stroke="#222" stroke-width="0.158" >1600</text>
<line x1="497.6" y1="871.7" x2="500.2" y2="871.7" stroke="#555" stroke-width="0.7" />
<text x="495.6" y="874.3" font-size="7.2" text-anchor="end" fill="#222" stroke="#222" stroke-width="0.158" >0.0</text>
<line x1="497.6" y1="859.79" x2="499.1" y2="859.79" stroke="#555" stroke-width="0.7" />
<line x1="497.6" y1="847.89" x2="500.2" y2="847.89" stroke="#555" stroke-width="0.7" />
<text x="495.6" y="850.49" font-size="7.2" text-anchor="end" fill="#222" stroke="#222" stroke-width="0.158" >0.2</text>
<line x1="497.6" y1="835.98" x2="499.1" y2="835.98" stroke="#555" stroke-width="0.7" />
<line x1="497.6" y1="824.07" x2="500.2" y2="824.07" stroke="#555" stroke-width="0.7" />
<text x="495.6" y="826.67" font-size="7.2" text-anchor="end" fill="#222" stroke="#222" stroke-width="0.158" >0.4</text>
<line x1="497.6" y1="812.16" x2="499.1" y2="812.16" stroke="#555" stroke-width="0.7" />
<line x1="497.6" y1="800.26" x2="500.2" y2="800.26" stroke="#555" stroke-width="0.7" />
<text x="495.6" y="802.86" font-size="7.2" text-anchor="end" fill="#222" stroke="#222" stroke-width="0.158" >0.6</text>
<line x1="497.6" y1="788.35" x2="499.1" y2="788.35" stroke="#555" stroke-width="0.7" />
<line x1="497.6" y1="776.44" x2="500.2" y2="776.44" stroke="#555" stroke-width="0.7" />
<text x="495.6" y="779.04" font-size="7.2" text-anchor="end" fill="#222" stroke="#222" stroke-width="0.158" >0.8</text>
<line x1="497.6" y1="764.54" x2="499.1" y2="764.54" stroke="#555" stroke-width="0.7" />
<line x1="497.6" y1="752.63" x2="500.2" y2="752.63" stroke="#555" stroke-width="0.7" />
<text x="495.6" y="755.23" font-size="7.2" text-anchor="end" fill="#222" stroke="#222" stroke-width="0.158" >1.0</text>
<line x1="497.6" y1="740.72" x2="499.1" y2="740.72" stroke="#555" stroke-width="0.7" />
<line x1="497.6" y1="728.81" x2="500.2" y2="728.81" stroke="#555" stroke-width="0.7" />
<text x="495.6" y="731.41" font-size="7.2" text-anchor="end" fill="#222" stroke="#222" stroke-width="0.158" >1.2</text>
<line x1="497.6" y1="716.91" x2="499.1" y2="716.91" stroke="#555" stroke-width="0.7" />
<line x1="497.6" y1="705" x2="500.2" y2="705" stroke="#555" stroke-width="0.7" />
<text x="495.6" y="707.6" font-size="7.2" text-anchor="end" fill="#222" stroke="#222" stroke-width="0.158" >1.4</text>
<text x="581.3" y="894.5" font-size="9.3" text-anchor="middle" fill="#1a1a1a" stroke="#1a1a1a" stroke-width="0.205" >Wavelength (nm)</text>
<circle cx="509" cy="712.4" r="2.3" fill="url(#gPur)"/>
<text x="518.9" y="715" font-size="7" text-anchor="start" fill="#222" stroke="#222" stroke-width="0.154" >Exp.</text>
<line x1="501.5" y1="721.3" x2="517.4" y2="721.3" stroke="#111" stroke-width="1.1" />
<text x="518.9" y="723.8" font-size="7" text-anchor="start" fill="#222" stroke="#222" stroke-width="0.154" >Sim.</text>
</svg></body></html>
